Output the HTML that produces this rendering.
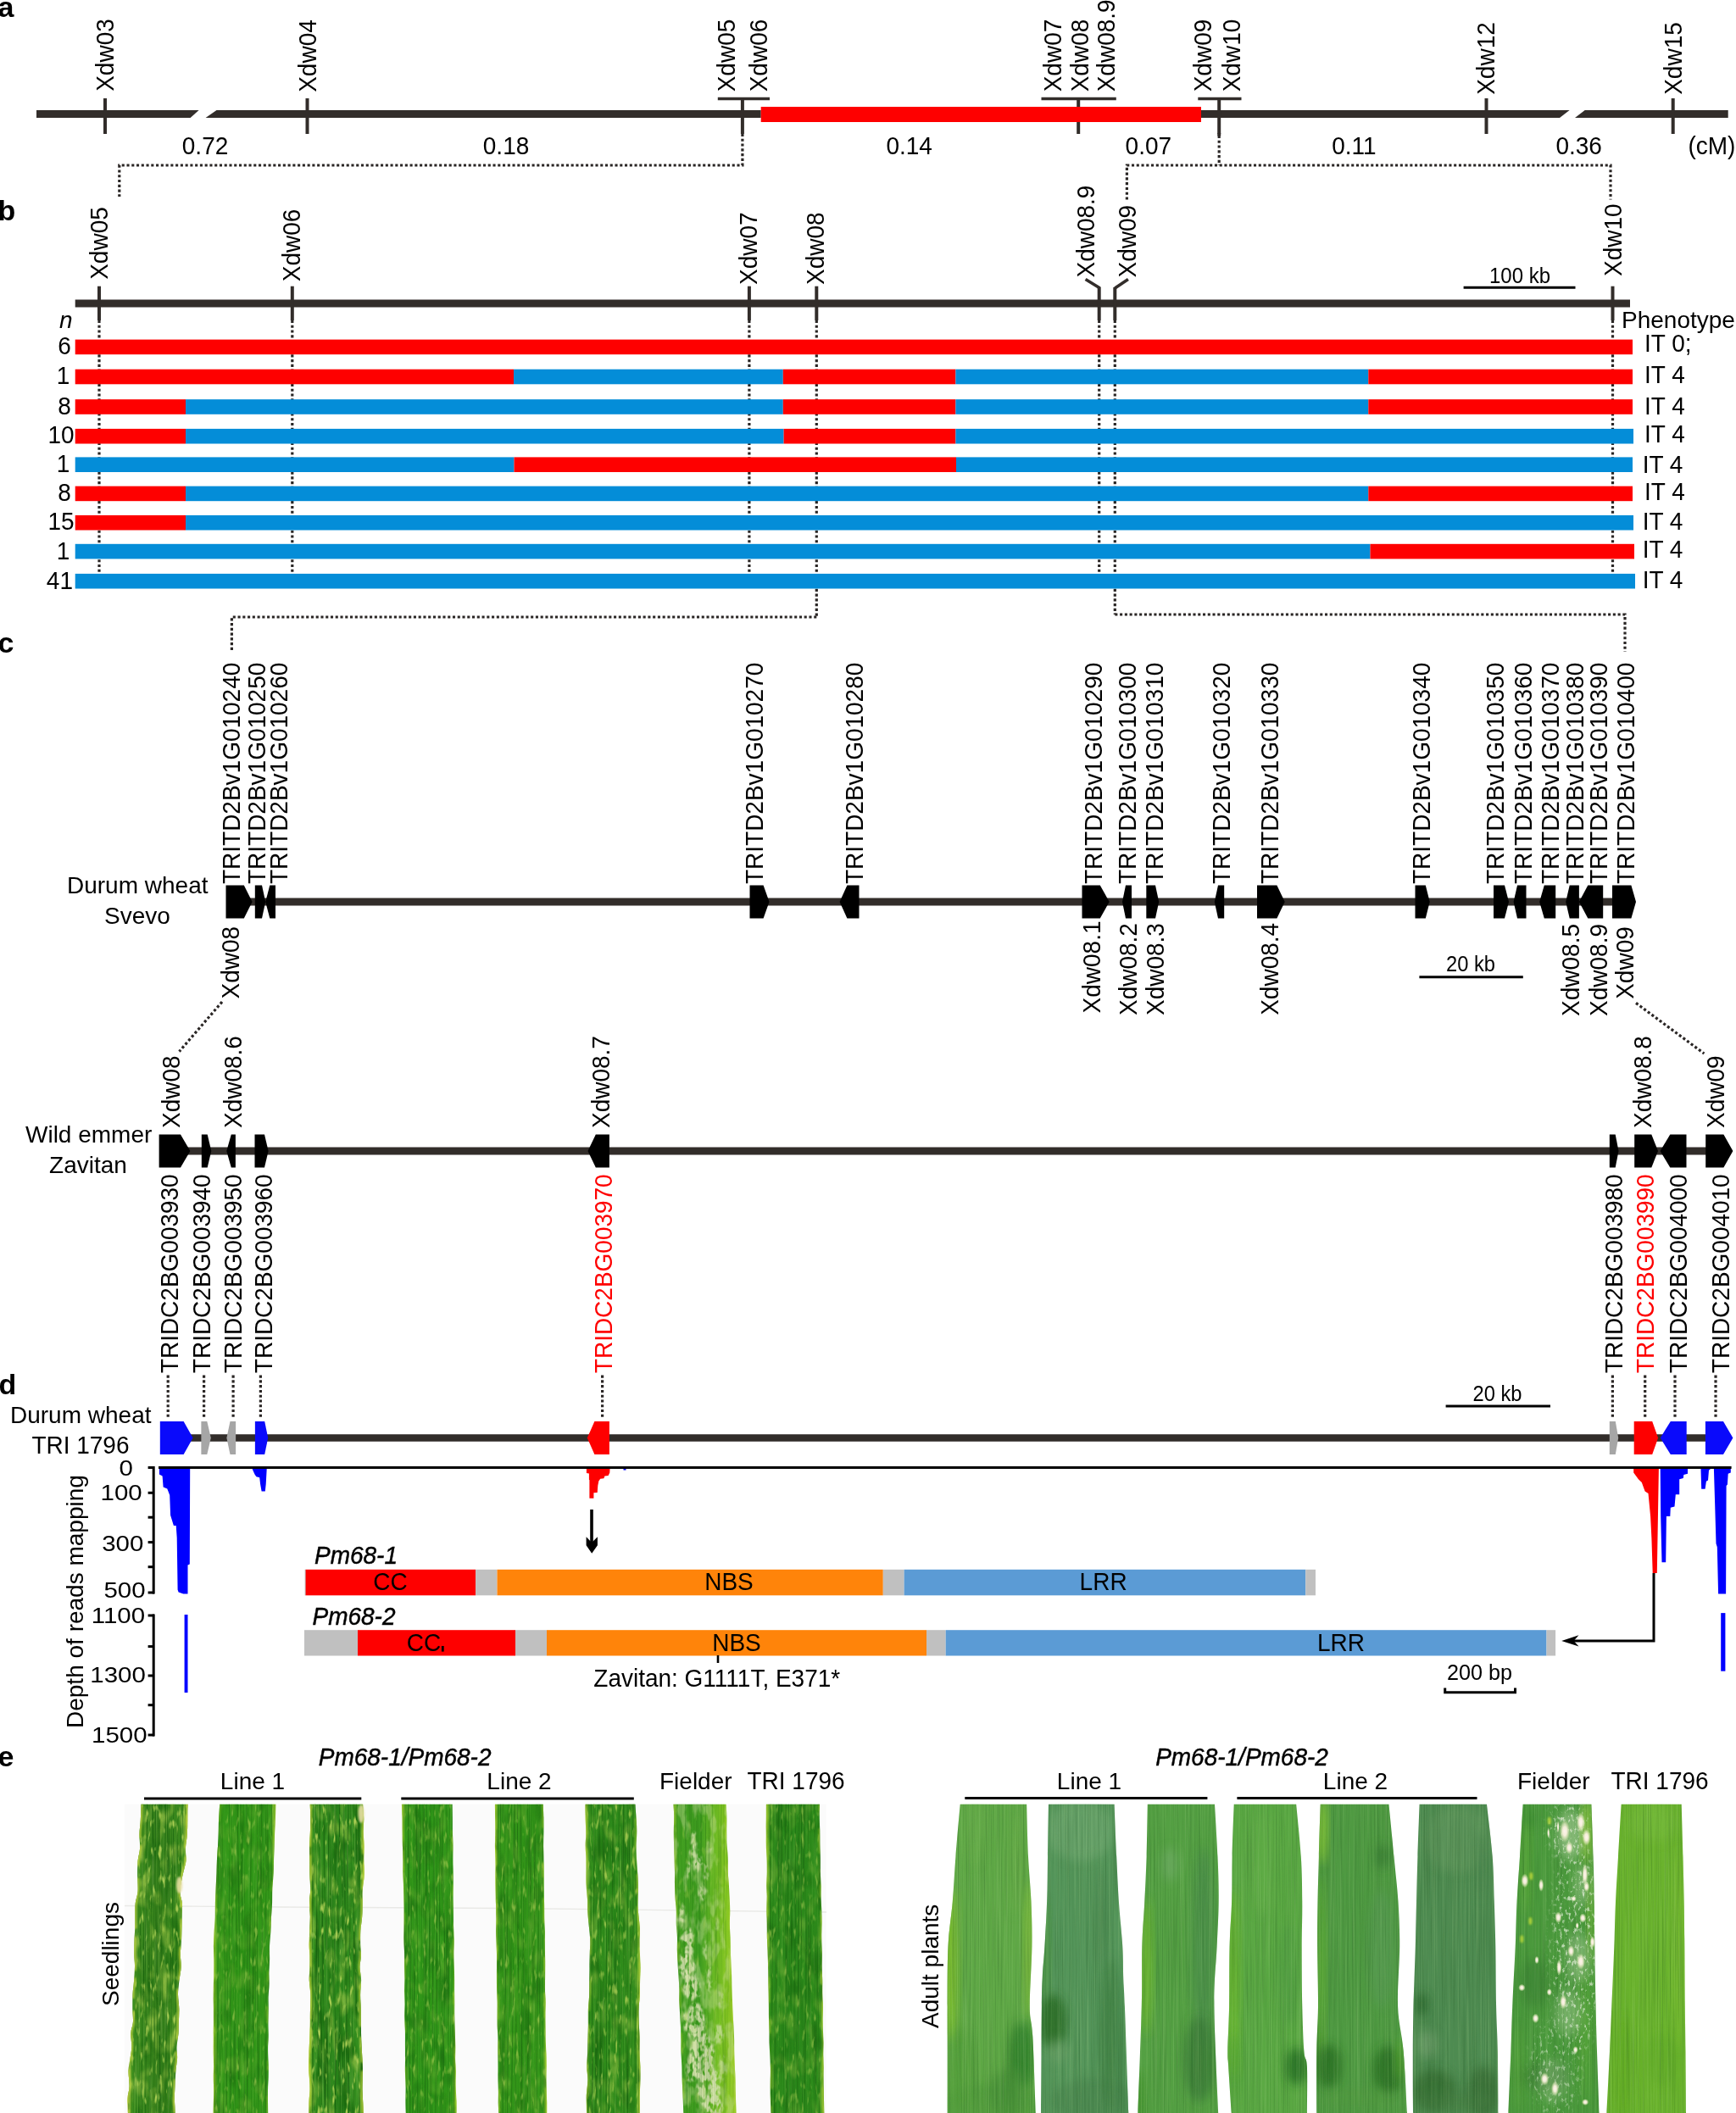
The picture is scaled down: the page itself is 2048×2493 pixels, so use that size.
<!DOCTYPE html>
<html><head><meta charset="utf-8"><title>Figure</title>
<style>html,body{margin:0;padding:0;background:#fff}svg{display:block;will-change:transform}text{font-family:"Liberation Sans",sans-serif}</style>
</head><body>
<svg width="2048" height="2493" viewBox="0 0 2048 2493" font-family="Liberation Sans, sans-serif">
<rect width="2048" height="2493" fill="#fff"/>
<text x="-2.4" y="19.5" font-size="34" fill="#000" text-anchor="start" font-weight="bold">a</text>
<polygon points="43.0,130.0 234.6,130.0 224.6,139.0 43.0,139.0" fill="#322d2a" />
<polygon points="255.5,130.0 897.7,130.0 897.7,139.0 242.6,139.0" fill="#322d2a" />
<polygon points="1417.0,130.0 1851.6,130.0 1840.0,139.0 1417.0,139.0" fill="#322d2a" />
<polygon points="1869.7,130.0 2038.7,130.0 2038.7,139.0 1858.0,139.0" fill="#322d2a" />
<line x1="124.0" y1="116.0" x2="124.0" y2="158.0" stroke="#322d2a" stroke-width="4" />
<line x1="362.5" y1="116.0" x2="362.5" y2="158.0" stroke="#322d2a" stroke-width="4" />
<line x1="1753.5" y1="116.0" x2="1753.5" y2="158.0" stroke="#322d2a" stroke-width="4" />
<line x1="1973.7" y1="116.0" x2="1973.7" y2="158.0" stroke="#322d2a" stroke-width="4" />
<line x1="846.8" y1="116.5" x2="908.0" y2="116.5" stroke="#322d2a" stroke-width="3.4" />
<line x1="875.9" y1="116.0" x2="875.9" y2="158.0" stroke="#322d2a" stroke-width="4" />
<line x1="1228.5" y1="116.5" x2="1316.8" y2="116.5" stroke="#322d2a" stroke-width="3.4" />
<line x1="1272.2" y1="116.0" x2="1272.2" y2="158.0" stroke="#322d2a" stroke-width="4" />
<line x1="1413.3" y1="116.5" x2="1464.5" y2="116.5" stroke="#322d2a" stroke-width="3.4" />
<line x1="1438.2" y1="116.0" x2="1438.2" y2="158.0" stroke="#322d2a" stroke-width="4" />
<rect x="897.7" y="126.0" width="519.3" height="18.0" fill="#fe0000"/>
<text transform="translate(134.0,107.8) rotate(-90) scale(1,1.04)" font-size="28" fill="#000" text-anchor="start" >Xdw03</text>
<text transform="translate(373.0,108.8) rotate(-90) scale(1,1.04)" font-size="28" fill="#000" text-anchor="start" >Xdw04</text>
<text transform="translate(866.9,108.3) rotate(-90) scale(1,1.04)" font-size="28" fill="#000" text-anchor="start" >Xdw05</text>
<text transform="translate(905.0,108.3) rotate(-90) scale(1,1.04)" font-size="28" fill="#000" text-anchor="start" >Xdw06</text>
<text transform="translate(1252.4,108.3) rotate(-90) scale(1,1.04)" font-size="28" fill="#000" text-anchor="start" >Xdw07</text>
<text transform="translate(1283.9,108.3) rotate(-90) scale(1,1.04)" font-size="28" fill="#000" text-anchor="start" >Xdw08</text>
<text transform="translate(1315.3,108.3) rotate(-90) scale(1,1.04)" font-size="28" fill="#000" text-anchor="start" >Xdw08.9</text>
<text transform="translate(1428.8,108.3) rotate(-90) scale(1,1.04)" font-size="28" fill="#000" text-anchor="start" >Xdw09</text>
<text transform="translate(1462.5,108.3) rotate(-90) scale(1,1.04)" font-size="28" fill="#000" text-anchor="start" >Xdw10</text>
<text transform="translate(1763.1,111.8) rotate(-90) scale(1,1.04)" font-size="28" fill="#000" text-anchor="start" >Xdw12</text>
<text transform="translate(1983.7,111.8) rotate(-90) scale(1,1.04)" font-size="28" fill="#000" text-anchor="start" >Xdw15</text>
<text transform="translate(214.8,182.0) scale(1,1.04)" font-size="28" fill="#000" text-anchor="start" >0.72</text>
<text transform="translate(569.8,182.0) scale(1,1.04)" font-size="28" fill="#000" text-anchor="start" >0.18</text>
<text transform="translate(1045.4,182.0) scale(1,1.04)" font-size="28" fill="#000" text-anchor="start" >0.14</text>
<text transform="translate(1327.6,182.0) scale(1,1.04)" font-size="28" fill="#000" text-anchor="start" >0.07</text>
<text transform="translate(1571.2,182.0) scale(1,1.04)" font-size="28" fill="#000" text-anchor="start" >0.11</text>
<text transform="translate(1835.4,182.0) scale(1,1.04)" font-size="28" fill="#000" text-anchor="start" >0.36</text>
<text transform="translate(1991.5,182.0) scale(1,1.04)" font-size="28" fill="#000" text-anchor="start" >(cM)</text>
<path d="M875.9,158.0 L875.9,195.0 L140.8,195.0 L140.8,232.0" fill="none" stroke="#2a2625" stroke-width="3.2" stroke-dasharray="3.1 2.66"/>
<line x1="1438.2" y1="157.0" x2="1438.2" y2="160.5" stroke="#322d2a" stroke-width="4" />
<path d="M1438.2,160.0 L1438.2,195.0" fill="none" stroke="#2a2625" stroke-width="3.2" stroke-dasharray="3.1 2.66"/>
<path d="M1329.4,235.5 L1329.4,195.0 L1900.0,195.0 L1900.0,235.5" fill="none" stroke="#2a2625" stroke-width="3.2" stroke-dasharray="3.1 2.66"/>
<text x="-2.4" y="260.2" font-size="34" fill="#000" text-anchor="start" font-weight="bold">b</text>
<path d="M117.0,378.0 L117.0,680.0" fill="none" stroke="#2a2625" stroke-width="3.2" stroke-dasharray="3.1 2.66"/>
<path d="M344.8,378.0 L344.8,680.0" fill="none" stroke="#2a2625" stroke-width="3.2" stroke-dasharray="3.1 2.66"/>
<path d="M883.9,378.0 L883.9,680.0" fill="none" stroke="#2a2625" stroke-width="3.2" stroke-dasharray="3.1 2.66"/>
<path d="M963.3,378.0 L963.3,729.0" fill="none" stroke="#2a2625" stroke-width="3.2" stroke-dasharray="3.1 2.66"/>
<path d="M1296.7,378.0 L1296.7,680.0" fill="none" stroke="#2a2625" stroke-width="3.2" stroke-dasharray="3.1 2.66"/>
<path d="M1315.3,378.0 L1315.3,725.0" fill="none" stroke="#2a2625" stroke-width="3.2" stroke-dasharray="3.1 2.66"/>
<path d="M1902.5,378.0 L1902.5,680.0" fill="none" stroke="#2a2625" stroke-width="3.2" stroke-dasharray="3.1 2.66"/>
<path d="M963.3,728.0 L273.4,728.0 L273.4,767.0" fill="none" stroke="#2a2625" stroke-width="3.2" stroke-dasharray="3.1 2.66"/>
<path d="M1315.3,725.0 L1917.0,725.0 L1917.0,769.0" fill="none" stroke="#2a2625" stroke-width="3.2" stroke-dasharray="3.1 2.66"/>
<line x1="88.7" y1="358.0" x2="1923.0" y2="358.0" stroke="#322d2a" stroke-width="9" />
<line x1="117.0" y1="337.7" x2="117.0" y2="378.0" stroke="#322d2a" stroke-width="4" />
<line x1="344.8" y1="337.7" x2="344.8" y2="378.0" stroke="#322d2a" stroke-width="4" />
<line x1="883.9" y1="337.7" x2="883.9" y2="378.0" stroke="#322d2a" stroke-width="4" />
<line x1="963.3" y1="337.7" x2="963.3" y2="378.0" stroke="#322d2a" stroke-width="4" />
<line x1="1296.7" y1="339.0" x2="1296.7" y2="378.0" stroke="#322d2a" stroke-width="4" />
<line x1="1315.3" y1="339.0" x2="1315.3" y2="378.0" stroke="#322d2a" stroke-width="4" />
<line x1="1902.5" y1="337.7" x2="1902.5" y2="378.0" stroke="#322d2a" stroke-width="4" />
<line x1="1297.7" y1="340.0" x2="1280.6" y2="329.5" stroke="#322d2a" stroke-width="3.6" />
<line x1="1315.3" y1="340.0" x2="1330.9" y2="329.5" stroke="#322d2a" stroke-width="3.6" />
<text transform="translate(127.0,329.8) rotate(-90) scale(1,1.04)" font-size="28" fill="#000" text-anchor="start" >Xdw05</text>
<text transform="translate(354.0,332.2) rotate(-90) scale(1,1.04)" font-size="28" fill="#000" text-anchor="start" >Xdw06</text>
<text transform="translate(893.1,336.0) rotate(-90) scale(1,1.04)" font-size="28" fill="#000" text-anchor="start" >Xdw07</text>
<text transform="translate(971.8,336.0) rotate(-90) scale(1,1.04)" font-size="28" fill="#000" text-anchor="start" >Xdw08</text>
<text transform="translate(1290.9,327.5) rotate(-90) scale(1,1.04)" font-size="28" fill="#000" text-anchor="start" >Xdw08.9</text>
<text transform="translate(1340.2,327.5) rotate(-90) scale(1,1.04)" font-size="28" fill="#000" text-anchor="start" >Xdw09</text>
<text transform="translate(1913.2,326.0) rotate(-90) scale(1,1.04)" font-size="28" fill="#000" text-anchor="start" >Xdw10</text>
<text x="70.0" y="387.3" font-size="28" fill="#000" text-anchor="start" font-style="italic">n</text>
<rect x="88.7" y="400.6" width="1837.3" height="17.6" fill="#fe0000"/>
<text transform="translate(83.8,417.6) scale(1,1.04)" font-size="28" fill="#000" text-anchor="end" >6</text>
<text transform="translate(1940.0,415.0) scale(1,1.04)" font-size="28" fill="#000" text-anchor="start" >IT 0;</text>
<rect x="88.7" y="435.7" width="517.3" height="17.6" fill="#fe0000"/>
<rect x="606.0" y="435.7" width="317.8" height="17.6" fill="#048dd8"/>
<rect x="923.8" y="435.7" width="203.6" height="17.6" fill="#fe0000"/>
<rect x="1127.4" y="435.7" width="486.9" height="17.6" fill="#048dd8"/>
<rect x="1614.3" y="435.7" width="311.7" height="17.6" fill="#fe0000"/>
<text transform="translate(82.4,453.0) scale(1,1.04)" font-size="28" fill="#000" text-anchor="end" >1</text>
<text transform="translate(1940.0,451.6) scale(1,1.04)" font-size="28" fill="#000" text-anchor="start" >IT 4</text>
<rect x="88.7" y="471.2" width="130.3" height="17.6" fill="#fe0000"/>
<rect x="219.0" y="471.2" width="704.8" height="17.6" fill="#048dd8"/>
<rect x="923.8" y="471.2" width="203.6" height="17.6" fill="#fe0000"/>
<rect x="1127.4" y="471.2" width="486.9" height="17.6" fill="#048dd8"/>
<rect x="1614.3" y="471.2" width="311.7" height="17.6" fill="#fe0000"/>
<text transform="translate(83.8,489.0) scale(1,1.04)" font-size="28" fill="#000" text-anchor="end" >8</text>
<text transform="translate(1940.0,489.2) scale(1,1.04)" font-size="28" fill="#000" text-anchor="start" >IT 4</text>
<rect x="88.7" y="505.9" width="130.3" height="17.6" fill="#fe0000"/>
<rect x="219.0" y="505.9" width="705.6" height="17.6" fill="#048dd8"/>
<rect x="924.6" y="505.9" width="202.8" height="17.6" fill="#fe0000"/>
<rect x="1127.4" y="505.9" width="799.6" height="17.6" fill="#048dd8"/>
<text transform="translate(87.6,523.2) scale(1,1.04)" font-size="28" fill="#000" text-anchor="end" >10</text>
<text transform="translate(1940.0,522.4) scale(1,1.04)" font-size="28" fill="#000" text-anchor="start" >IT 4</text>
<rect x="88.7" y="539.4" width="517.8" height="17.6" fill="#048dd8"/>
<rect x="606.5" y="539.4" width="521.5" height="17.6" fill="#fe0000"/>
<rect x="1128.0" y="539.4" width="798.0" height="17.6" fill="#048dd8"/>
<text transform="translate(82.4,556.7) scale(1,1.04)" font-size="28" fill="#000" text-anchor="end" >1</text>
<text transform="translate(1937.7,557.6) scale(1,1.04)" font-size="28" fill="#000" text-anchor="start" >IT 4</text>
<rect x="88.7" y="573.6" width="130.3" height="17.6" fill="#fe0000"/>
<rect x="219.0" y="573.6" width="1395.3" height="17.6" fill="#048dd8"/>
<rect x="1614.3" y="573.6" width="311.7" height="17.6" fill="#fe0000"/>
<text transform="translate(83.8,591.0) scale(1,1.04)" font-size="28" fill="#000" text-anchor="end" >8</text>
<text transform="translate(1940.0,589.8) scale(1,1.04)" font-size="28" fill="#000" text-anchor="start" >IT 4</text>
<rect x="88.7" y="607.9" width="130.3" height="17.6" fill="#fe0000"/>
<rect x="219.0" y="607.9" width="1708.0" height="17.6" fill="#048dd8"/>
<text transform="translate(87.6,624.8) scale(1,1.04)" font-size="28" fill="#000" text-anchor="end" >15</text>
<text transform="translate(1937.7,625.0) scale(1,1.04)" font-size="28" fill="#000" text-anchor="start" >IT 4</text>
<rect x="88.7" y="641.8" width="1527.8" height="17.6" fill="#048dd8"/>
<rect x="1616.5" y="641.8" width="311.5" height="17.6" fill="#fe0000"/>
<text transform="translate(82.4,659.5) scale(1,1.04)" font-size="28" fill="#000" text-anchor="end" >1</text>
<text transform="translate(1937.7,658.2) scale(1,1.04)" font-size="28" fill="#000" text-anchor="start" >IT 4</text>
<rect x="88.7" y="676.9" width="1840.3" height="17.6" fill="#048dd8"/>
<text transform="translate(86.0,694.6) scale(1,1.04)" font-size="28" fill="#000" text-anchor="end" >41</text>
<text transform="translate(1937.7,694.4) scale(1,1.04)" font-size="28" fill="#000" text-anchor="start" >IT 4</text>
<text x="1913.0" y="386.6" font-size="28" fill="#000" text-anchor="start" >Phenotype</text>
<line x1="1726.6" y1="339.2" x2="1858.5" y2="339.2" stroke="#000" stroke-width="3" />
<text x="1793.0" y="334.0" font-size="26" fill="#000" text-anchor="middle" textLength="72" lengthAdjust="spacingAndGlyphs">100 kb</text>
<text x="-2.4" y="769.5" font-size="34" fill="#000" text-anchor="start" font-weight="bold">c</text>
<line x1="290.0" y1="1064.0" x2="1926.0" y2="1064.0" stroke="#322d2a" stroke-width="9" />
<polygon points="266.5,1044.5 287.8,1044.5 297.6,1064.0 287.8,1083.5 266.5,1083.5" fill="#000" />
<text transform="translate(282.9,1043.0) rotate(-90) scale(1,1.04)" font-size="28" fill="#000" text-anchor="start" >TRITD2Bv1G010240</text>
<polygon points="300.8,1044.5 309.0,1044.5 313.2,1064.0 309.0,1083.5 300.8,1083.5" fill="#000" />
<text transform="translate(313.4,1043.0) rotate(-90) scale(1,1.04)" font-size="28" fill="#000" text-anchor="start" >TRITD2Bv1G010250</text>
<polygon points="325.0,1044.5 318.3,1044.5 313.2,1064.0 318.3,1083.5 325.0,1083.5" fill="#000" />
<text transform="translate(338.8,1043.0) rotate(-90) scale(1,1.04)" font-size="28" fill="#000" text-anchor="start" >TRITD2Bv1G010260</text>
<polygon points="884.5,1044.5 900.6,1044.5 907.5,1064.0 900.6,1083.5 884.5,1083.5" fill="#000" />
<text transform="translate(899.8,1043.0) rotate(-90) scale(1,1.04)" font-size="28" fill="#000" text-anchor="start" >TRITD2Bv1G010270</text>
<polygon points="1013.5,1044.5 999.4,1044.5 990.6,1064.0 999.4,1083.5 1013.5,1083.5" fill="#000" />
<text transform="translate(1017.6,1043.0) rotate(-90) scale(1,1.04)" font-size="28" fill="#000" text-anchor="start" >TRITD2Bv1G010280</text>
<polygon points="1276.5,1044.5 1297.8,1044.5 1308.7,1064.0 1297.8,1083.5 1276.5,1083.5" fill="#000" />
<text transform="translate(1299.8,1043.0) rotate(-90) scale(1,1.04)" font-size="28" fill="#000" text-anchor="start" >TRITD2Bv1G010290</text>
<polygon points="1335.0,1044.5 1328.0,1044.5 1324.0,1064.0 1328.0,1083.5 1335.0,1083.5" fill="#000" />
<text transform="translate(1340.2,1043.0) rotate(-90) scale(1,1.04)" font-size="28" fill="#000" text-anchor="start" >TRITD2Bv1G010300</text>
<polygon points="1352.3,1044.5 1363.0,1044.5 1367.2,1064.0 1363.0,1083.5 1352.3,1083.5" fill="#000" />
<text transform="translate(1372.4,1043.0) rotate(-90) scale(1,1.04)" font-size="28" fill="#000" text-anchor="start" >TRITD2Bv1G010310</text>
<polygon points="1444.2,1044.5 1437.0,1044.5 1432.8,1064.0 1437.0,1083.5 1444.2,1083.5" fill="#000" />
<text transform="translate(1451.3,1043.0) rotate(-90) scale(1,1.04)" font-size="28" fill="#000" text-anchor="start" >TRITD2Bv1G010320</text>
<polygon points="1483.0,1044.5 1506.4,1044.5 1515.7,1064.0 1506.4,1083.5 1483.0,1083.5" fill="#000" />
<text transform="translate(1507.5,1043.0) rotate(-90) scale(1,1.04)" font-size="28" fill="#000" text-anchor="start" >TRITD2Bv1G010330</text>
<polygon points="1669.5,1044.5 1681.8,1044.5 1686.7,1064.0 1681.8,1083.5 1669.5,1083.5" fill="#000" />
<text transform="translate(1687.4,1043.0) rotate(-90) scale(1,1.04)" font-size="28" fill="#000" text-anchor="start" >TRITD2Bv1G010340</text>
<polygon points="1762.0,1044.5 1775.0,1044.5 1780.0,1064.0 1775.0,1083.5 1762.0,1083.5" fill="#000" />
<text transform="translate(1774.4,1043.0) rotate(-90) scale(1,1.04)" font-size="28" fill="#000" text-anchor="start" >TRITD2Bv1G010350</text>
<polygon points="1800.5,1044.5 1790.0,1044.5 1785.6,1064.0 1790.0,1083.5 1800.5,1083.5" fill="#000" />
<text transform="translate(1806.9,1043.0) rotate(-90) scale(1,1.04)" font-size="28" fill="#000" text-anchor="start" >TRITD2Bv1G010360</text>
<polygon points="1835.2,1044.5 1821.8,1044.5 1816.2,1064.0 1821.8,1083.5 1835.2,1083.5" fill="#000" />
<text transform="translate(1838.6,1043.0) rotate(-90) scale(1,1.04)" font-size="28" fill="#000" text-anchor="start" >TRITD2Bv1G010370</text>
<polygon points="1862.9,1044.5 1851.7,1044.5 1847.2,1064.0 1851.7,1083.5 1862.9,1083.5" fill="#000" />
<text transform="translate(1867.7,1043.0) rotate(-90) scale(1,1.04)" font-size="28" fill="#000" text-anchor="start" >TRITD2Bv1G010380</text>
<polygon points="1891.2,1044.5 1873.3,1044.5 1862.9,1064.0 1873.3,1083.5 1891.2,1083.5" fill="#000" />
<text transform="translate(1895.7,1043.0) rotate(-90) scale(1,1.04)" font-size="28" fill="#000" text-anchor="start" >TRITD2Bv1G010390</text>
<polygon points="1902.0,1044.5 1924.4,1044.5 1930.0,1064.0 1924.4,1083.5 1902.0,1083.5" fill="#000" />
<text transform="translate(1928.2,1043.0) rotate(-90) scale(1,1.04)" font-size="28" fill="#000" text-anchor="start" >TRITD2Bv1G010400</text>
<text transform="translate(282.0,1178.4) rotate(-90) scale(1,1.04)" font-size="28" fill="#000" text-anchor="start" >Xdw08</text>
<text transform="translate(1298.1,1195.4) rotate(-90) scale(1,1.04)" font-size="28" fill="#000" text-anchor="start" >Xdw08.1</text>
<text transform="translate(1340.6,1198.0) rotate(-90) scale(1,1.04)" font-size="28" fill="#000" text-anchor="start" >Xdw08.2</text>
<text transform="translate(1372.9,1198.0) rotate(-90) scale(1,1.04)" font-size="28" fill="#000" text-anchor="start" >Xdw08.3</text>
<text transform="translate(1507.5,1197.8) rotate(-90) scale(1,1.04)" font-size="28" fill="#000" text-anchor="start" >Xdw08.4</text>
<text transform="translate(1862.8,1198.9) rotate(-90) scale(1,1.04)" font-size="28" fill="#000" text-anchor="start" >Xdw08.5</text>
<text transform="translate(1895.6,1198.9) rotate(-90) scale(1,1.04)" font-size="28" fill="#000" text-anchor="start" >Xdw08.9</text>
<text transform="translate(1927.3,1178.8) rotate(-90) scale(1,1.04)" font-size="28" fill="#000" text-anchor="start" >Xdw09</text>
<text x="79.0" y="1053.6" font-size="28" fill="#000" text-anchor="start" >Durum wheat</text>
<text x="162.0" y="1090.0" font-size="28" fill="#000" text-anchor="middle" >Svevo</text>
<line x1="1674.4" y1="1152.8" x2="1796.8" y2="1152.8" stroke="#000" stroke-width="3" />
<text x="1735.0" y="1146.0" font-size="26" fill="#000" text-anchor="middle" textLength="58" lengthAdjust="spacingAndGlyphs">20 kb</text>
<path d="M262.0,1182.0 L211.5,1240.6" fill="none" stroke="#2a2625" stroke-width="3.2" stroke-dasharray="3.1 2.66"/>
<path d="M1930.0,1183.4 L2010.4,1243.0" fill="none" stroke="#2a2625" stroke-width="3.2" stroke-dasharray="3.1 2.66"/>
<line x1="200.0" y1="1358.0" x2="2040.0" y2="1358.0" stroke="#322d2a" stroke-width="9" />
<polygon points="187.6,1338.5 213.0,1338.5 224.4,1358.0 213.0,1377.5 187.6,1377.5" fill="#000" />
<text transform="translate(210.2,1385.3) rotate(-90) scale(1,1.04)" font-size="28" fill="#000" text-anchor="end" >TRIDC2BG003930</text>
<polygon points="237.8,1338.5 244.7,1338.5 249.3,1358.0 244.7,1377.5 237.8,1377.5" fill="#000" />
<text transform="translate(247.5,1385.3) rotate(-90) scale(1,1.04)" font-size="28" fill="#000" text-anchor="end" >TRIDC2BG003940</text>
<polygon points="277.9,1338.5 272.8,1338.5 267.3,1358.0 272.8,1377.5 277.9,1377.5" fill="#000" />
<text transform="translate(285.3,1385.3) rotate(-90) scale(1,1.04)" font-size="28" fill="#000" text-anchor="end" >TRIDC2BG003950</text>
<polygon points="300.5,1338.5 312.0,1338.5 316.6,1358.0 312.0,1377.5 300.5,1377.5" fill="#000" />
<text transform="translate(320.5,1385.3) rotate(-90) scale(1,1.04)" font-size="28" fill="#000" text-anchor="end" >TRIDC2BG003960</text>
<polygon points="718.9,1338.5 702.8,1338.5 693.5,1358.0 702.8,1377.5 718.9,1377.5" fill="#000" />
<text transform="translate(722.1,1385.3) rotate(-90) scale(1,1.04)" font-size="28" fill="#fe0000" text-anchor="end" >TRIDC2BG003970</text>
<polygon points="1898.8,1338.5 1905.7,1338.5 1909.5,1358.0 1905.7,1377.5 1898.8,1377.5" fill="#000" />
<text transform="translate(1914.0,1385.3) rotate(-90) scale(1,1.04)" font-size="28" fill="#000" text-anchor="end" >TRIDC2BG003980</text>
<polygon points="1928.2,1338.5 1948.3,1338.5 1956.0,1358.0 1948.3,1377.5 1928.2,1377.5" fill="#000" />
<text transform="translate(1951.4,1385.3) rotate(-90) scale(1,1.04)" font-size="28" fill="#fe0000" text-anchor="end" >TRIDC2BG003990</text>
<polygon points="1989.5,1338.5 1970.3,1338.5 1958.6,1358.0 1970.3,1377.5 1989.5,1377.5" fill="#000" />
<text transform="translate(1989.5,1385.3) rotate(-90) scale(1,1.04)" font-size="28" fill="#000" text-anchor="end" >TRIDC2BG004000</text>
<polygon points="2012.2,1338.5 2033.4,1338.5 2044.4,1358.0 2033.4,1377.5 2012.2,1377.5" fill="#000" />
<text transform="translate(2040.1,1385.3) rotate(-90) scale(1,1.04)" font-size="28" fill="#000" text-anchor="end" >TRIDC2BG004010</text>
<text transform="translate(211.5,1331.0) rotate(-90) scale(1,1.04)" font-size="28" fill="#000" text-anchor="start" >Xdw08</text>
<text transform="translate(284.8,1331.0) rotate(-90) scale(1,1.04)" font-size="28" fill="#000" text-anchor="start" >Xdw08.6</text>
<text transform="translate(718.9,1331.0) rotate(-90) scale(1,1.04)" font-size="28" fill="#000" text-anchor="start" >Xdw08.7</text>
<text transform="translate(1948.3,1331.0) rotate(-90) scale(1,1.04)" font-size="28" fill="#000" text-anchor="start" >Xdw08.8</text>
<text transform="translate(2034.2,1331.0) rotate(-90) scale(1,1.04)" font-size="28" fill="#000" text-anchor="start" >Xdw09</text>
<text x="30.0" y="1347.6" font-size="28" fill="#000" text-anchor="start" >Wild emmer</text>
<text x="104.0" y="1384.4" font-size="28" fill="#000" text-anchor="middle" >Zavitan</text>
<path d="M198.2,1622.6 L198.2,1674.4" fill="none" stroke="#2a2625" stroke-width="3.2" stroke-dasharray="3.1 2.66"/>
<path d="M240.6,1622.6 L240.6,1674.4" fill="none" stroke="#2a2625" stroke-width="3.2" stroke-dasharray="3.1 2.66"/>
<path d="M275.1,1622.6 L275.1,1674.4" fill="none" stroke="#2a2625" stroke-width="3.2" stroke-dasharray="3.1 2.66"/>
<path d="M307.4,1622.6 L307.4,1674.4" fill="none" stroke="#2a2625" stroke-width="3.2" stroke-dasharray="3.1 2.66"/>
<path d="M710.6,1622.6 L710.6,1674.4" fill="none" stroke="#2a2625" stroke-width="3.2" stroke-dasharray="3.1 2.66"/>
<path d="M1902.4,1622.6 L1902.4,1674.4" fill="none" stroke="#2a2625" stroke-width="3.2" stroke-dasharray="3.1 2.66"/>
<path d="M1940.7,1622.6 L1940.7,1674.4" fill="none" stroke="#2a2625" stroke-width="3.2" stroke-dasharray="3.1 2.66"/>
<path d="M1976.0,1622.6 L1976.0,1674.4" fill="none" stroke="#2a2625" stroke-width="3.2" stroke-dasharray="3.1 2.66"/>
<path d="M2024.0,1622.6 L2024.0,1674.4" fill="none" stroke="#2a2625" stroke-width="3.2" stroke-dasharray="3.1 2.66"/>
<line x1="1705.6" y1="1659.0" x2="1829.0" y2="1659.0" stroke="#000" stroke-width="3" />
<text x="1766.5" y="1652.6" font-size="26" fill="#000" text-anchor="middle" textLength="58" lengthAdjust="spacingAndGlyphs">20 kb</text>
<text x="-1.6" y="1645.0" font-size="34" fill="#000" text-anchor="start" font-weight="bold">d</text>
<text x="12.0" y="1679.3" font-size="28" fill="#000" text-anchor="start" >Durum wheat</text>
<text transform="translate(37.4,1715.3) scale(1,1.04)" font-size="28" fill="#000" text-anchor="start" >TRI 1796</text>
<line x1="200.0" y1="1696.5" x2="2040.0" y2="1696.5" stroke="#322d2a" stroke-width="8.6" />
<polygon points="188.8,1677.0 216.6,1677.0 227.6,1696.5 216.6,1716.0 188.8,1716.0" fill="#0a0afb" />
<polygon points="237.4,1677.0 244.3,1677.0 248.8,1696.5 244.3,1716.0 237.4,1716.0" fill="#a6a6a6" />
<polygon points="278.1,1677.0 271.5,1677.0 267.4,1696.5 271.5,1716.0 278.1,1716.0" fill="#a6a6a6" />
<polygon points="300.9,1677.0 312.2,1677.0 316.2,1696.5 312.2,1716.0 300.9,1716.0" fill="#0a0afb" />
<polygon points="718.9,1677.0 701.4,1677.0 692.8,1696.5 701.4,1716.0 718.9,1716.0" fill="#fe0000" />
<polygon points="1898.8,1677.0 1905.8,1677.0 1909.2,1696.5 1905.8,1716.0 1898.8,1716.0" fill="#a6a6a6" />
<polygon points="1927.7,1677.0 1949.2,1677.0 1956.1,1696.5 1949.2,1716.0 1927.7,1716.0" fill="#fe0000" />
<polygon points="1989.7,1677.0 1970.8,1677.0 1958.7,1696.5 1970.8,1716.0 1989.7,1716.0" fill="#0a0afb" />
<polygon points="2011.9,1677.0 2033.0,1677.0 2044.4,1696.5 2033.0,1716.0 2011.9,1716.0" fill="#0a0afb" />
<polygon points="187.9,1732.9 187.9,1739.5 191.6,1741.4 192.6,1754.6 197.3,1756.5 200.2,1764.1 201.1,1787.8 204.9,1800.0 207.7,1800.0 208.7,1814.3 209.6,1875.8 210.6,1878.6 216.3,1880.5 221.5,1880.5 221.5,1846.4 223.8,1845.5 224.2,1732.9" fill="#0000ff" />
<rect x="217.6" y="1905.0" width="3.9" height="92.0" fill="#0000ff"/>
<polygon points="297.6,1732.9 300.5,1739.5 302.4,1742.3 306.2,1743.3 307.1,1750.9 308.6,1759.4 312.8,1759.4 313.7,1750.9 314.7,1732.9" fill="#0000ff" />
<polygon points="691.9,1732.9 691.9,1738.1 694.9,1738.4 694.9,1745.7 695.4,1746.2 695.4,1767.7 700.4,1767.7 700.4,1761.3 704.7,1761.1 705.3,1752.8 706.3,1747.6 708.2,1744.7 712.4,1744.3 713.4,1741.6 717.6,1740.9 719.3,1737.6 719.5,1732.9" fill="#fe0000" />
<rect x="735.5" y="1732.5" width="3.0" height="2.0" fill="#0000ff"/>
<polygon points="1927.2,1733.0 1927.2,1737.4 1932.9,1745.2 1936.8,1749.0 1940.6,1759.4 1944.5,1761.9 1947.1,1789.0 1948.4,1814.8 1949.7,1856.1 1954.8,1856.1 1956.9,1733.0" fill="#fe0000" />
<polygon points="1958.7,1733.0 1959.2,1789.0 1960.5,1843.2 1965.2,1843.2 1965.9,1789.0 1970.3,1789.0 1970.8,1778.7 1975.5,1777.4 1976.8,1763.2 1981.2,1763.2 1981.2,1745.2 1985.8,1743.9 1986.3,1740.0 1991.0,1738.7 1991.0,1733.0" fill="#0000ff" />
<polygon points="2006.5,1733.0 2007.2,1756.8 2011.6,1756.8 2012.9,1747.7 2015.0,1746.5 2016.0,1734.8 2018.0,1733.0" fill="#0000ff" />
<polygon points="2021.9,1733.0 2023.2,1776.1 2024.5,1821.3 2025.8,1825.2 2027.1,1880.6 2036.1,1880.6 2036.6,1752.9 2037.9,1751.6 2038.7,1738.7 2041.8,1737.4 2041.8,1733.0" fill="#0000ff" />
<rect x="2030.2" y="1903.1" width="5.2" height="68.6" fill="#0000ff"/>
<line x1="187.0" y1="1731.5" x2="2042.6" y2="1731.5" stroke="#000" stroke-width="3" />
<line x1="181.2" y1="1730.0" x2="181.2" y2="1880.5" stroke="#000" stroke-width="3" />
<line x1="174.6" y1="1731.5" x2="182.0" y2="1731.5" stroke="#000" stroke-width="3" />
<line x1="174.6" y1="1761.3" x2="182.0" y2="1761.3" stroke="#000" stroke-width="3" />
<line x1="174.6" y1="1790.2" x2="182.0" y2="1790.2" stroke="#000" stroke-width="3" />
<line x1="174.6" y1="1819.6" x2="182.0" y2="1819.6" stroke="#000" stroke-width="3" />
<line x1="174.6" y1="1848.7" x2="182.0" y2="1848.7" stroke="#000" stroke-width="3" />
<line x1="174.6" y1="1879.0" x2="182.0" y2="1879.0" stroke="#000" stroke-width="3" />
<line x1="181.2" y1="1904.5" x2="181.2" y2="2048.5" stroke="#000" stroke-width="3" />
<line x1="174.6" y1="1906.0" x2="182.0" y2="1906.0" stroke="#000" stroke-width="3" />
<line x1="174.6" y1="1942.6" x2="182.0" y2="1942.6" stroke="#000" stroke-width="3" />
<line x1="174.6" y1="1977.0" x2="182.0" y2="1977.0" stroke="#000" stroke-width="3" />
<line x1="174.6" y1="2011.7" x2="182.0" y2="2011.7" stroke="#000" stroke-width="3" />
<line x1="174.6" y1="2047.0" x2="182.0" y2="2047.0" stroke="#000" stroke-width="3" />
<text transform="translate(156.9,1741) scale(1.18,1.04)" font-size="25" text-anchor="end">0</text>
<text transform="translate(167.7,1770) scale(1.18,1.04)" font-size="25" text-anchor="end">100</text>
<text transform="translate(169.4,1829.6) scale(1.18,1.04)" font-size="25" text-anchor="end">300</text>
<text transform="translate(171.6,1884.6) scale(1.18,1.04)" font-size="25" text-anchor="end">500</text>
<text transform="translate(171.1,1915.2) scale(1.18,1.04)" font-size="25" text-anchor="end">1100</text>
<text transform="translate(171.9,1985) scale(1.18,1.04)" font-size="25" text-anchor="end">1300</text>
<text transform="translate(173.6,2055.8) scale(1.18,1.04)" font-size="25" text-anchor="end">1500</text>
<text transform="translate(98.4,2039.0) rotate(-90)" font-size="28" fill="#000" text-anchor="start" >Depth of reads mapping</text>
<line x1="698.0" y1="1781.0" x2="698.0" y2="1822.0" stroke="#000" stroke-width="3.6" />
<polygon points="691.6,1813.2 698.1,1820.0 704.9,1813.2 704.9,1823.3 698.2,1832.8 691.6,1823.3" fill="#000" />
<path d="M1951,1856 L1951,1936 L1856,1936" fill="none" stroke="#000" stroke-width="3"/>
<polygon points="1842.2,1936.0 1862.5,1929.2 1856.5,1936.0 1862.5,1942.6" fill="#000" />
<rect x="359.6" y="1851.8" width="1.4" height="30.5" fill="#c0c0c0"/>
<rect x="360.6" y="1851.8" width="200.5" height="30.5" fill="#fe0000"/>
<rect x="561.1" y="1851.8" width="25.4" height="30.5" fill="#c0c0c0"/>
<rect x="586.5" y="1851.8" width="455.3" height="30.5" fill="#ff840a"/>
<rect x="1041.8" y="1851.8" width="24.8" height="30.5" fill="#c0c0c0"/>
<rect x="1066.6" y="1851.8" width="473.7" height="30.5" fill="#5b9bd5"/>
<rect x="1540.3" y="1851.8" width="11.7" height="30.5" fill="#c0c0c0"/>
<rect x="359.0" y="1923.2" width="63.0" height="30.3" fill="#c0c0c0"/>
<rect x="422.0" y="1923.2" width="186.0" height="30.3" fill="#fe0000"/>
<rect x="608.0" y="1923.2" width="37.0" height="30.3" fill="#c0c0c0"/>
<rect x="645.0" y="1923.2" width="448.0" height="30.3" fill="#ff840a"/>
<rect x="1093.0" y="1923.2" width="22.7" height="30.3" fill="#c0c0c0"/>
<rect x="1115.7" y="1923.2" width="708.8" height="30.3" fill="#5b9bd5"/>
<rect x="1824.5" y="1923.2" width="10.6" height="30.3" fill="#c0c0c0"/>
<text transform="translate(460.4,1876.0) scale(1,1.04)" font-size="28" fill="#000" text-anchor="middle" >CC</text>
<text transform="translate(860.0,1876.0) scale(1,1.04)" font-size="28" fill="#000" text-anchor="middle" >NBS</text>
<text transform="translate(1301.6,1876.0) scale(1,1.04)" font-size="28" fill="#000" text-anchor="middle" >LRR</text>
<text transform="translate(500.0,1947.5) scale(1,1.04)" font-size="28" fill="#000" text-anchor="middle" >CC</text>
<text transform="translate(869.0,1947.5) scale(1,1.04)" font-size="28" fill="#000" text-anchor="middle" >NBS</text>
<text transform="translate(1582.0,1947.5) scale(1,1.04)" font-size="28" fill="#000" text-anchor="middle" >LRR</text>
<line x1="522.3" y1="1942.0" x2="522.3" y2="1948.6" stroke="#000" stroke-width="2.8" />
<line x1="847.0" y1="1953.0" x2="847.0" y2="1962.0" stroke="#000" stroke-width="2.6" />
<text transform="translate(371.0,1844.7) scale(1,1.04)" font-size="28" fill="#000" text-anchor="start" font-style="italic" stroke="#000" stroke-width="0.45">Pm68-1</text>
<text transform="translate(368.5,1916.7) scale(1,1.04)" font-size="28" fill="#000" text-anchor="start" font-style="italic" stroke="#000" stroke-width="0.45">Pm68-2</text>
<text transform="translate(700.3,1989.8) scale(1,1.04)" font-size="28" fill="#000" text-anchor="start" >Zavitan: G1111T, E371*</text>
<text x="1745.5" y="1982.0" font-size="26" fill="#000" text-anchor="middle" textLength="77" lengthAdjust="spacingAndGlyphs">200 bp</text>
<path d="M1704.7,1991.5 L1704.7,1996.8 L1787.5,1996.8 L1787.5,1991.5" fill="none" stroke="#000" stroke-width="3"/>
<text x="-2.4" y="2084.0" font-size="34" fill="#000" text-anchor="start" font-weight="bold">e</text>
<defs>
<filter id="fvein" x="0" y="0" width="1" height="1" color-interpolation-filters="sRGB">
<feTurbulence type="fractalNoise" baseFrequency="0.6 0.008" numOctaves="2" seed="5"/>
<feColorMatrix type="matrix" values="0 0 0 0 0.08  0 0 0 0 0.36  0 0 0 0 0.05  2.6 0 0 0 -1.15"/>
<feComposite in2="SourceAlpha" operator="in"/></filter>
<filter id="fveinL" x="0" y="0" width="1" height="1" color-interpolation-filters="sRGB">
<feTurbulence type="fractalNoise" baseFrequency="0.55 0.012" numOctaves="2" seed="9"/>
<feColorMatrix type="matrix" values="0 0 0 0 0.62  0 0 0 0 0.80  0 0 0 0 0.42  0 3.0 0 0 -1.55"/>
<feComposite in2="SourceAlpha" operator="in"/></filter>
<filter id="fspk" x="0" y="0" width="1" height="1" color-interpolation-filters="sRGB">
<feTurbulence type="fractalNoise" baseFrequency="0.24 0.062" numOctaves="2" seed="2"/>
<feColorMatrix type="matrix" values="0 0 0 0 0.66  0 0 0 0 0.80  0 0 0 0 0.32  4.6 0 0 0 -2.75"/>
<feComposite in2="SourceAlpha" operator="in"/></filter>
<filter id="fspk2" x="0" y="0" width="1" height="1" color-interpolation-filters="sRGB">
<feTurbulence type="fractalNoise" baseFrequency="0.07 0.03" numOctaves="2" seed="14"/>
<feColorMatrix type="matrix" values="0 0 0 0 0.10  0 0 0 0 0.42  0 0 0 0 0.06  0 4 0 0 -2.1"/>
<feComposite in2="SourceAlpha" operator="in"/></filter>
<filter id="fmot" x="0" y="0" width="1" height="1" color-interpolation-filters="sRGB">
<feTurbulence type="fractalNoise" baseFrequency="0.085 0.04" numOctaves="2" seed="77"/>
<feColorMatrix type="matrix" values="0 0 0 0 0.60  0 0 0 0 0.76  0 0 0 0 0.27  0 0 3.6 0 -1.75"/>
<feComposite in2="SourceAlpha" operator="in"/></filter>
<filter id="fwht" x="0" y="0" width="1" height="1" color-interpolation-filters="sRGB">
<feTurbulence type="fractalNoise" baseFrequency="0.09 0.035" numOctaves="3" seed="21"/>
<feColorMatrix type="matrix" values="0 0 0 0 0.80  0 0 0 0 0.87  0 0 0 0 0.62  6 0 0 0 -2.9"/>
<feComposite in2="SourceAlpha" operator="in"/></filter>
<filter id="fgrain" x="0" y="0" width="1" height="1" color-interpolation-filters="sRGB">
<feTurbulence type="fractalNoise" baseFrequency="0.7 0.008" numOctaves="2" seed="31"/>
<feColorMatrix type="matrix" values="0 0 0 0 0.12  0 0 0 0 0.32  0 0 0 0 0.12  2.0 0 0 0 -0.92"/>
<feComposite in2="SourceAlpha" operator="in"/></filter>
<filter id="fgrainL" x="0" y="0" width="1" height="1" color-interpolation-filters="sRGB">
<feTurbulence type="fractalNoise" baseFrequency="0.65 0.006" numOctaves="2" seed="47"/>
<feColorMatrix type="matrix" values="0 0 0 0 0.75  0 0 0 0 0.90  0 0 0 0 0.62  0 2.0 0 0 -0.95"/>
<feComposite in2="SourceAlpha" operator="in"/></filter>
<filter id="fpow" x="0" y="0" width="1" height="1" color-interpolation-filters="sRGB">
<feTurbulence type="fractalNoise" baseFrequency="0.3 0.16" numOctaves="3" seed="8"/>
<feColorMatrix type="matrix" values="0 0 0 0 0.88  0 0 0 0 0.93  0 0 0 0 0.84  5 0 0 0 -2.8"/>
<feComposite in2="SourceAlpha" operator="in"/></filter>
<filter id="blur3" x="-0.3" y="-0.3" width="1.6" height="1.6"><feGaussianBlur stdDeviation="3"/></filter>
<filter id="blur6" x="-0.5" y="-0.5" width="2" height="2"><feGaussianBlur stdDeviation="6"/></filter>
<filter id="frough" x="-0.1" y="-0.05" width="1.2" height="1.1" color-interpolation-filters="sRGB">
<feTurbulence type="fractalNoise" baseFrequency="0.22 0.11" numOctaves="2" seed="4" result="n"/>
<feDisplacementMap in="SourceGraphic" in2="n" scale="10" xChannelSelector="R" yChannelSelector="G" result="d"/>
<feGaussianBlur in="d" stdDeviation="0.9" result="b"/>
<feColorMatrix in="n" type="matrix" values="0 0 0 0 1  0 0 0 0 1  0 0 0 0 1  0 0 5 0 -1.7" result="m"/>
<feComposite in="b" in2="m" operator="in"/></filter>
<filter id="blur2" x="-0.3" y="-0.3" width="1.6" height="1.6"><feGaussianBlur stdDeviation="1.8"/></filter>
<filter id="blur1" x="-0.3" y="-0.3" width="1.6" height="1.6"><feGaussianBlur stdDeviation="1.1"/></filter>
<radialGradient id="wspot"><stop offset="0" stop-color="#fff4ec"/><stop offset="0.4" stop-color="#f7efdc" stop-opacity="0.97"/><stop offset="0.7" stop-color="#e3e8c0" stop-opacity="0.6"/><stop offset="1" stop-color="#cfe0a0" stop-opacity="0"/></radialGradient>
<linearGradient id="gs1" gradientUnits="userSpaceOnUse" x1="150.9" y1="0" x2="221.6" y2="0"><stop offset="0" stop-color="#b9cf3c"/><stop offset="0.07" stop-color="#3d8f1f"/><stop offset="0.5" stop-color="#357f1b"/><stop offset="0.93" stop-color="#3d8f1f"/><stop offset="1" stop-color="#b9cf3c"/></linearGradient>
<clipPath id="cs1"><path d="M166.5,2128.8 C166.4,2131.9 166.2,2141.5 165.8,2147.3 C165.5,2153.2 164.6,2158.3 164.5,2163.9 C164.3,2169.4 165.4,2175.4 165.1,2180.6 C164.8,2185.9 163.1,2190.1 162.6,2195.5 C162.1,2200.8 162.1,2206.6 162.1,2212.6 C162.1,2218.6 162.9,2226.0 162.5,2231.4 C162.1,2236.9 160.2,2240.8 159.7,2245.4 C159.1,2249.9 159.3,2254.3 159.3,2258.7 C159.2,2263.1 159.4,2266.7 159.3,2271.9 C159.2,2277.1 158.7,2284.3 158.6,2290.0 C158.4,2295.6 158.4,2300.8 158.4,2306.0 C158.5,2311.1 159.1,2315.2 159.0,2320.6 C158.9,2326.1 158.3,2333.3 157.9,2338.7 C157.5,2344.1 156.8,2347.7 156.5,2353.0 C156.3,2358.4 156.3,2365.2 156.3,2370.6 C156.4,2376.1 157.3,2381.2 156.9,2386.0 C156.5,2390.7 154.5,2394.2 154.2,2399.0 C153.9,2403.8 155.4,2409.9 155.3,2414.8 C155.2,2419.7 154.2,2423.5 153.6,2428.2 C153.0,2432.9 151.6,2437.3 151.5,2442.8 C151.3,2448.4 152.8,2456.1 152.6,2461.6 C152.4,2467.2 150.7,2470.9 150.4,2476.1 C150.1,2481.3 150.8,2490.2 150.9,2493.0 L206.7,2493.0 C206.6,2490.2 206.0,2481.3 205.9,2476.1 C205.9,2470.9 206.2,2467.2 206.4,2461.6 C206.7,2456.1 207.0,2448.4 207.4,2442.8 C207.9,2437.3 208.9,2432.9 209.1,2428.2 C209.3,2423.5 208.3,2419.7 208.6,2414.8 C208.8,2409.9 210.1,2403.8 210.5,2399.0 C210.9,2394.2 210.7,2390.7 210.8,2386.0 C211.0,2381.2 211.5,2376.1 211.4,2370.6 C211.2,2365.2 210.1,2358.4 210.0,2353.0 C210.0,2347.7 210.6,2344.1 211.2,2338.7 C211.8,2333.3 213.4,2326.1 213.7,2320.6 C213.9,2315.2 212.8,2311.1 212.8,2306.0 C212.9,2300.8 213.8,2295.6 214.0,2290.0 C214.3,2284.3 214.4,2277.1 214.5,2271.9 C214.6,2266.7 214.7,2263.1 214.8,2258.7 C214.8,2254.3 215.3,2249.9 214.9,2245.4 C214.4,2240.8 212.2,2236.9 212.3,2231.4 C212.4,2226.0 214.3,2218.6 215.5,2212.6 C216.7,2206.6 218.9,2200.8 219.5,2195.5 C220.0,2190.1 218.7,2185.9 218.9,2180.6 C219.2,2175.4 220.5,2169.4 220.8,2163.9 C221.2,2158.3 221.1,2153.2 221.3,2147.3 C221.4,2141.5 221.5,2131.9 221.6,2128.8 Z"/></clipPath>
<linearGradient id="gs2" gradientUnits="userSpaceOnUse" x1="251.6" y1="0" x2="325.4" y2="0"><stop offset="0" stop-color="#9ccb2c"/><stop offset="0.07" stop-color="#35991a"/><stop offset="0.5" stop-color="#2f9517"/><stop offset="0.93" stop-color="#35991a"/><stop offset="1" stop-color="#9ccb2c"/></linearGradient>
<clipPath id="cs2"><path d="M259.2,2128.8 C259.0,2131.9 258.3,2141.5 258.0,2147.2 C257.8,2152.8 257.9,2157.7 257.7,2162.7 C257.6,2167.6 257.3,2171.9 257.1,2176.8 C256.8,2181.8 256.2,2187.1 256.0,2192.6 C255.7,2198.1 255.7,2204.1 255.5,2209.8 C255.3,2215.6 254.8,2221.4 254.6,2227.2 C254.3,2233.1 254.1,2239.2 253.9,2244.9 C253.8,2250.7 253.9,2256.0 253.7,2261.7 C253.5,2267.4 252.9,2273.5 252.6,2279.2 C252.3,2285.0 252.0,2290.7 251.9,2296.2 C251.9,2301.7 252.2,2306.8 252.3,2312.0 C252.3,2317.3 252.3,2322.8 252.2,2327.7 C252.2,2332.7 252.0,2337.1 251.9,2341.8 C251.9,2346.5 251.8,2351.4 251.8,2356.0 C251.7,2360.5 251.9,2364.0 251.9,2369.2 C251.9,2374.4 251.9,2381.7 251.9,2387.1 C251.9,2392.6 251.8,2396.7 251.8,2401.9 C251.8,2407.0 251.6,2412.5 251.7,2418.1 C251.7,2423.8 252.0,2430.5 252.0,2435.9 C252.0,2441.2 251.8,2445.1 251.8,2450.3 C251.8,2455.4 252.1,2459.7 252.1,2466.8 C252.1,2474.0 251.7,2488.6 251.6,2493.0 L316.2,2493.0 C316.2,2488.6 315.9,2474.0 316.0,2466.8 C316.1,2459.7 316.6,2455.4 316.7,2450.3 C316.8,2445.1 316.8,2441.2 316.7,2435.9 C316.6,2430.5 316.1,2423.8 316.1,2418.1 C316.1,2412.5 316.7,2407.0 316.7,2401.9 C316.8,2396.7 316.4,2392.6 316.4,2387.1 C316.4,2381.7 316.6,2374.4 316.7,2369.2 C316.7,2364.0 316.4,2360.5 316.5,2356.0 C316.7,2351.4 317.4,2346.5 317.5,2341.8 C317.7,2337.1 317.2,2332.7 317.3,2327.7 C317.4,2322.8 318.0,2317.3 318.1,2312.0 C318.2,2306.8 317.8,2301.7 318.0,2296.2 C318.3,2290.7 319.0,2285.0 319.3,2279.2 C319.6,2273.5 319.7,2267.4 320.0,2261.7 C320.3,2256.0 320.8,2250.7 321.1,2244.9 C321.3,2239.2 321.1,2233.1 321.4,2227.2 C321.7,2221.4 322.4,2215.6 322.7,2209.8 C323.0,2204.1 322.9,2198.1 323.1,2192.6 C323.3,2187.1 323.6,2181.8 323.7,2176.8 C323.9,2171.9 323.9,2167.6 324.1,2162.7 C324.3,2157.7 324.7,2152.8 324.9,2147.2 C325.2,2141.5 325.3,2131.9 325.4,2128.8 Z"/></clipPath>
<linearGradient id="gs3" gradientUnits="userSpaceOnUse" x1="364.3" y1="0" x2="429.6" y2="0"><stop offset="0" stop-color="#b4cf3a"/><stop offset="0.07" stop-color="#358f1f"/><stop offset="0.5" stop-color="#2b861b"/><stop offset="0.93" stop-color="#358f1f"/><stop offset="1" stop-color="#b4cf3a"/></linearGradient>
<clipPath id="cs3"><path d="M365.7,2128.8 C365.8,2131.6 366.3,2140.0 366.3,2145.5 C366.4,2151.0 366.2,2156.2 365.9,2161.6 C365.7,2167.0 365.1,2172.3 365.0,2177.8 C364.9,2183.2 365.2,2188.7 365.3,2194.4 C365.4,2200.0 365.3,2205.7 365.5,2211.8 C365.6,2217.8 366.2,2225.2 366.1,2230.6 C366.0,2236.0 365.0,2239.0 365.0,2244.1 C365.0,2249.2 365.8,2255.6 365.9,2261.3 C365.9,2267.0 365.6,2272.6 365.3,2278.1 C365.1,2283.6 364.6,2289.4 364.6,2294.3 C364.6,2299.2 365.3,2302.9 365.5,2307.3 C365.6,2311.8 365.6,2316.0 365.4,2320.8 C365.3,2325.5 364.7,2330.5 364.8,2335.9 C365.0,2341.3 366.1,2347.5 366.3,2353.2 C366.5,2359.0 366.1,2364.6 366.0,2370.5 C365.9,2376.5 365.8,2383.1 365.7,2389.0 C365.5,2395.0 365.5,2400.7 365.2,2406.3 C365.0,2412.0 364.5,2417.5 364.3,2423.1 C364.1,2428.6 363.9,2434.4 364.0,2439.4 C364.1,2444.4 364.8,2448.5 365.0,2452.9 C365.3,2457.4 365.6,2461.6 365.5,2466.1 C365.4,2470.6 364.6,2475.6 364.5,2480.0 C364.3,2484.5 364.3,2490.8 364.3,2493.0 L429.0,2493.0 C428.9,2490.8 428.5,2484.5 428.2,2480.0 C428.0,2475.6 427.6,2470.6 427.5,2466.1 C427.4,2461.6 427.6,2457.4 427.7,2452.9 C427.7,2448.5 428.0,2444.4 427.9,2439.4 C427.8,2434.4 427.4,2428.6 427.1,2423.1 C426.8,2417.5 426.4,2412.0 426.2,2406.3 C426.0,2400.7 426.0,2395.0 425.9,2389.0 C425.8,2383.1 425.9,2376.5 425.8,2370.5 C425.7,2364.6 425.0,2359.0 425.1,2353.2 C425.1,2347.5 426.2,2341.3 426.1,2335.9 C426.0,2330.5 424.5,2325.5 424.5,2320.8 C424.5,2316.0 425.9,2311.8 426.0,2307.3 C426.1,2302.9 425.3,2299.2 425.2,2294.3 C425.1,2289.4 425.0,2283.6 425.3,2278.1 C425.7,2272.6 426.8,2267.0 427.2,2261.3 C427.6,2255.6 427.6,2249.2 427.7,2244.1 C427.8,2239.0 427.3,2236.0 427.7,2230.6 C428.0,2225.2 429.5,2217.8 429.8,2211.8 C430.1,2205.7 429.3,2200.0 429.3,2194.4 C429.2,2188.7 429.7,2183.2 429.6,2177.8 C429.5,2172.3 428.8,2167.0 428.7,2161.6 C428.6,2156.2 429.3,2151.0 429.2,2145.5 C429.1,2140.0 428.4,2131.6 428.2,2128.8 Z"/></clipPath>
<linearGradient id="gs4" gradientUnits="userSpaceOnUse" x1="473.9" y1="0" x2="538.5" y2="0"><stop offset="0" stop-color="#9ccb2c"/><stop offset="0.07" stop-color="#33981a"/><stop offset="0.5" stop-color="#2e9518"/><stop offset="0.93" stop-color="#33981a"/><stop offset="1" stop-color="#9ccb2c"/></linearGradient>
<clipPath id="cs4"><path d="M473.9,2128.8 C474.0,2131.1 474.4,2137.6 474.5,2142.8 C474.6,2148.0 474.5,2154.2 474.6,2159.9 C474.6,2165.7 474.8,2171.6 474.9,2177.3 C475.1,2183.1 475.4,2189.1 475.4,2194.3 C475.5,2199.4 475.2,2203.6 475.2,2208.2 C475.3,2212.9 475.7,2217.7 475.9,2222.2 C476.0,2226.8 476.1,2230.3 476.2,2235.6 C476.3,2240.8 476.5,2247.9 476.5,2253.8 C476.6,2259.7 476.7,2265.4 476.6,2271.1 C476.6,2276.9 476.3,2282.5 476.4,2288.2 C476.5,2293.9 477.0,2300.0 477.1,2305.3 C477.2,2310.6 477.0,2315.4 477.0,2320.2 C477.1,2325.0 477.4,2329.5 477.4,2334.3 C477.3,2339.1 477.0,2344.1 477.0,2349.1 C477.0,2354.1 477.5,2359.4 477.5,2364.6 C477.5,2369.7 477.1,2374.7 477.2,2379.9 C477.3,2385.1 477.8,2390.1 477.9,2395.7 C478.0,2401.2 477.9,2407.4 477.9,2413.1 C478.0,2418.9 478.0,2425.0 478.0,2430.1 C478.0,2435.1 477.8,2438.2 477.9,2443.5 C478.0,2448.7 478.6,2455.8 478.6,2461.7 C478.7,2467.6 478.4,2473.5 478.4,2478.7 C478.4,2483.9 478.7,2490.6 478.8,2493.0 L538.5,2493.0 C538.5,2490.6 538.7,2483.9 538.5,2478.7 C538.4,2473.5 537.8,2467.6 537.7,2461.7 C537.5,2455.8 537.9,2448.7 537.9,2443.5 C537.8,2438.2 537.2,2435.1 537.1,2430.1 C537.0,2425.0 537.4,2418.9 537.3,2413.1 C537.2,2407.4 536.9,2401.2 536.7,2395.7 C536.5,2390.1 536.3,2385.1 536.2,2379.9 C536.1,2374.7 536.2,2369.7 536.2,2364.6 C536.2,2359.4 536.1,2354.1 536.1,2349.1 C536.1,2344.1 536.2,2339.1 536.1,2334.3 C536.1,2329.5 536.0,2325.0 535.8,2320.2 C535.7,2315.4 535.3,2310.6 535.3,2305.3 C535.3,2300.0 535.8,2293.9 535.7,2288.2 C535.7,2282.5 535.1,2276.9 535.0,2271.1 C534.9,2265.4 535.0,2259.7 534.9,2253.8 C534.8,2247.9 534.6,2240.8 534.6,2235.6 C534.6,2230.3 534.8,2226.8 534.8,2222.2 C534.8,2217.7 534.8,2212.9 534.7,2208.2 C534.6,2203.6 534.4,2199.4 534.4,2194.3 C534.3,2189.1 534.5,2183.1 534.4,2177.3 C534.3,2171.6 534.0,2165.7 533.9,2159.9 C533.8,2154.2 533.9,2148.0 533.8,2142.8 C533.8,2137.6 533.6,2131.1 533.6,2128.8 Z"/></clipPath>
<linearGradient id="gs5" gradientUnits="userSpaceOnUse" x1="583.9" y1="0" x2="645.2" y2="0"><stop offset="0" stop-color="#a7cf30"/><stop offset="0.07" stop-color="#36981b"/><stop offset="0.5" stop-color="#309317"/><stop offset="0.93" stop-color="#36981b"/><stop offset="1" stop-color="#a7cf30"/></linearGradient>
<clipPath id="cs5"><path d="M583.9,2128.8 C583.9,2131.4 584.1,2139.2 584.2,2144.5 C584.3,2149.8 584.4,2155.0 584.3,2160.7 C584.3,2166.4 583.9,2172.6 583.9,2178.8 C584.0,2185.0 584.6,2191.7 584.6,2197.8 C584.7,2203.9 584.3,2209.7 584.3,2215.2 C584.3,2220.8 584.4,2225.6 584.5,2230.9 C584.6,2236.2 584.8,2241.4 585.0,2246.9 C585.1,2252.4 585.5,2258.6 585.5,2263.9 C585.5,2269.2 585.1,2273.5 585.1,2278.6 C585.1,2283.6 585.4,2288.5 585.6,2294.0 C585.8,2299.6 586.1,2305.8 586.1,2311.7 C586.1,2317.6 585.9,2323.5 585.9,2329.7 C585.9,2335.8 586.0,2343.1 586.1,2348.4 C586.3,2353.7 586.6,2357.2 586.7,2361.6 C586.8,2366.0 586.7,2370.2 586.7,2374.9 C586.7,2379.6 586.6,2385.1 586.7,2389.9 C586.8,2394.7 587.3,2398.7 587.4,2403.7 C587.6,2408.7 587.4,2414.6 587.4,2419.9 C587.4,2425.3 587.5,2430.8 587.5,2435.8 C587.6,2440.8 587.4,2444.6 587.5,2449.8 C587.5,2455.1 587.8,2462.1 587.9,2467.3 C588.0,2472.4 587.8,2476.4 587.8,2480.7 C587.9,2485.0 588.2,2491.0 588.3,2493.0 L645.2,2493.0 C645.2,2491.0 645.2,2485.0 645.2,2480.7 C645.1,2476.4 644.9,2472.4 644.7,2467.3 C644.6,2462.1 644.4,2455.1 644.4,2449.8 C644.4,2444.6 644.8,2440.8 644.7,2435.8 C644.7,2430.8 644.5,2425.3 644.3,2419.9 C644.1,2414.6 643.8,2408.7 643.7,2403.7 C643.6,2398.7 643.7,2394.7 643.6,2389.9 C643.6,2385.1 643.4,2379.6 643.4,2374.9 C643.4,2370.2 643.7,2366.0 643.6,2361.6 C643.6,2357.2 643.1,2353.7 643.0,2348.4 C642.9,2343.1 643.1,2335.8 643.1,2329.7 C643.1,2323.5 643.2,2317.6 643.1,2311.7 C643.1,2305.8 642.9,2299.6 642.9,2294.0 C642.8,2288.5 643.0,2283.6 642.9,2278.6 C642.8,2273.5 642.3,2269.2 642.2,2263.9 C642.1,2258.6 642.2,2252.4 642.1,2246.9 C642.0,2241.4 641.8,2236.2 641.8,2230.9 C641.7,2225.6 641.8,2220.8 641.7,2215.2 C641.7,2209.7 641.5,2203.9 641.5,2197.8 C641.4,2191.7 641.2,2185.0 641.1,2178.8 C641.1,2172.6 641.3,2166.4 641.4,2160.7 C641.4,2155.0 641.4,2149.8 641.3,2144.5 C641.2,2139.2 640.9,2131.4 640.8,2128.8 Z"/></clipPath>
<linearGradient id="gs6" gradientUnits="userSpaceOnUse" x1="690.6" y1="0" x2="755.0" y2="0"><stop offset="0" stop-color="#a4c936"/><stop offset="0.07" stop-color="#348f1d"/><stop offset="0.5" stop-color="#2c891a"/><stop offset="0.93" stop-color="#348f1d"/><stop offset="1" stop-color="#a4c936"/></linearGradient>
<clipPath id="cs6"><path d="M690.6,2128.8 C690.6,2131.9 690.6,2141.9 690.7,2147.6 C690.9,2153.4 691.3,2158.2 691.3,2163.2 C691.3,2168.2 690.6,2172.9 690.6,2177.4 C690.6,2182.0 691.2,2186.2 691.4,2190.6 C691.6,2195.1 691.5,2198.9 691.5,2204.2 C691.5,2209.5 691.2,2216.4 691.4,2222.5 C691.7,2228.6 692.7,2235.6 693.0,2240.9 C693.3,2246.3 692.9,2249.4 693.2,2254.9 C693.5,2260.3 694.4,2267.7 694.9,2273.7 C695.5,2279.6 696.2,2285.6 696.3,2290.6 C696.5,2295.6 695.9,2298.6 695.8,2303.8 C695.6,2309.0 695.5,2316.2 695.5,2321.7 C695.4,2327.2 695.4,2331.2 695.3,2336.8 C695.3,2342.3 695.3,2349.4 695.1,2355.0 C694.8,2360.7 694.1,2365.0 693.9,2370.6 C693.7,2376.3 693.9,2383.5 693.9,2388.9 C693.8,2394.3 693.7,2397.5 693.6,2403.0 C693.4,2408.5 693.3,2415.7 693.1,2421.7 C692.8,2427.7 692.1,2433.5 692.2,2438.9 C692.3,2444.3 693.5,2448.7 693.4,2454.2 C693.3,2459.8 692.0,2465.8 691.8,2472.2 C691.5,2478.7 692.0,2489.5 692.0,2493.0 L755.0,2493.0 C755.0,2489.5 754.7,2478.7 754.8,2472.2 C754.9,2465.8 755.3,2459.8 755.4,2454.2 C755.5,2448.7 755.5,2444.3 755.4,2438.9 C755.3,2433.5 754.7,2427.7 754.6,2421.7 C754.5,2415.7 754.9,2408.5 754.7,2403.0 C754.6,2397.5 754.0,2394.3 753.8,2388.9 C753.5,2383.5 753.3,2376.3 753.5,2370.6 C753.6,2365.0 754.6,2360.7 754.9,2355.0 C755.1,2349.4 754.9,2342.3 755.1,2336.8 C755.2,2331.2 755.6,2327.2 755.6,2321.7 C755.5,2316.2 755.1,2309.0 754.9,2303.8 C754.7,2298.6 754.7,2295.6 754.6,2290.6 C754.6,2285.6 755.1,2279.6 754.8,2273.7 C754.5,2267.7 753.2,2260.3 752.9,2254.9 C752.5,2249.4 752.7,2246.3 752.7,2240.9 C752.7,2235.6 753.0,2228.6 752.8,2222.5 C752.7,2216.4 752.1,2209.5 751.8,2204.2 C751.5,2198.9 751.1,2195.1 750.9,2190.6 C750.7,2186.2 750.5,2182.0 750.5,2177.4 C750.6,2172.9 751.2,2168.2 751.2,2163.2 C751.3,2158.2 751.1,2153.4 750.8,2147.6 C750.4,2141.9 749.6,2131.9 749.4,2128.8 Z"/></clipPath>
<clipPath id="cs7"><path d="M794.4,2128.8 C794.5,2131.0 795.1,2136.5 795.2,2141.9 C795.2,2147.2 794.9,2155.5 794.8,2160.8 C794.8,2166.2 794.9,2169.1 795.0,2174.2 C795.2,2179.3 795.4,2185.5 795.6,2191.3 C795.7,2197.1 795.9,2203.4 796.0,2208.9 C796.0,2214.3 795.9,2219.1 796.0,2224.0 C796.1,2228.8 796.1,2233.2 796.4,2238.1 C796.7,2243.1 797.6,2248.3 797.8,2253.7 C798.0,2259.2 797.6,2265.5 797.8,2270.7 C798.0,2276.0 798.8,2280.3 798.9,2285.2 C799.1,2290.1 798.8,2295.0 798.8,2300.0 C798.9,2305.0 799.2,2310.3 799.5,2315.3 C799.7,2320.4 800.0,2324.9 800.4,2330.1 C800.7,2335.3 801.2,2341.5 801.4,2346.5 C801.6,2351.5 801.2,2355.1 801.3,2360.1 C801.5,2365.1 801.9,2371.5 802.1,2376.5 C802.4,2381.5 802.7,2385.0 802.9,2390.1 C803.1,2395.2 803.3,2401.8 803.4,2406.8 C803.5,2411.8 803.2,2415.0 803.4,2420.1 C803.5,2425.1 804.1,2431.9 804.3,2437.3 C804.5,2442.6 804.4,2446.5 804.6,2452.1 C804.8,2457.7 805.2,2464.2 805.5,2471.0 C805.8,2477.8 806.2,2489.3 806.3,2493.0 L868.6,2493.0 C868.5,2489.3 868.0,2477.8 867.9,2471.0 C867.7,2464.2 867.8,2457.7 867.6,2452.1 C867.5,2446.5 867.0,2442.6 866.8,2437.3 C866.6,2431.9 866.3,2425.1 866.2,2420.1 C866.1,2415.0 866.3,2411.8 866.2,2406.8 C866.0,2401.8 865.6,2395.2 865.4,2390.1 C865.1,2385.0 864.9,2381.5 864.6,2376.5 C864.4,2371.5 864.1,2365.1 864.0,2360.1 C863.8,2355.1 863.7,2351.5 863.5,2346.5 C863.4,2341.5 863.3,2335.3 863.1,2330.1 C862.9,2324.9 862.5,2320.4 862.3,2315.3 C862.1,2310.3 862.0,2305.0 861.9,2300.0 C861.8,2295.0 861.8,2290.1 861.6,2285.2 C861.4,2280.3 860.9,2276.0 860.9,2270.7 C860.8,2265.5 861.3,2259.2 861.2,2253.7 C861.2,2248.3 860.9,2243.1 860.7,2238.1 C860.4,2233.2 860.2,2228.8 859.9,2224.0 C859.6,2219.1 859.0,2214.3 858.8,2208.9 C858.6,2203.4 859.0,2197.1 858.7,2191.3 C858.5,2185.5 857.7,2179.3 857.4,2174.2 C857.2,2169.1 857.3,2166.2 857.2,2160.8 C857.2,2155.5 857.4,2147.2 857.3,2141.9 C857.2,2136.5 856.7,2131.0 856.6,2128.8 Z"/></clipPath>
<linearGradient id="gs8" gradientUnits="userSpaceOnUse" x1="903.9" y1="0" x2="972.3" y2="0"><stop offset="0" stop-color="#9cc72f"/><stop offset="0.07" stop-color="#2f8d1c"/><stop offset="0.5" stop-color="#2a871a"/><stop offset="0.93" stop-color="#2f8d1c"/><stop offset="1" stop-color="#9cc72f"/></linearGradient>
<clipPath id="cs8"><path d="M903.9,2128.8 C903.9,2131.1 903.9,2137.3 903.9,2142.3 C903.9,2147.4 903.8,2153.4 903.8,2159.2 C903.8,2165.0 903.7,2171.7 903.8,2177.1 C903.9,2182.6 904.4,2186.7 904.6,2192.0 C904.7,2197.2 904.8,2203.3 904.8,2208.7 C904.7,2214.1 904.2,2219.6 904.2,2224.4 C904.2,2229.2 904.8,2232.6 904.8,2237.5 C904.8,2242.4 904.4,2248.7 904.4,2253.9 C904.4,2259.2 904.8,2263.6 904.8,2268.8 C904.9,2274.1 904.8,2279.6 904.9,2285.4 C905.0,2291.3 905.4,2298.1 905.6,2303.9 C905.8,2309.7 906.0,2315.0 906.1,2320.2 C906.3,2325.5 906.3,2330.1 906.4,2335.4 C906.5,2340.8 906.6,2346.6 906.7,2352.2 C906.8,2357.7 906.8,2363.3 906.9,2368.5 C906.9,2373.7 906.9,2378.4 907.0,2383.1 C907.2,2387.9 907.6,2392.5 907.6,2397.1 C907.7,2401.7 907.5,2405.8 907.6,2410.5 C907.7,2415.2 908.1,2420.4 908.3,2425.1 C908.5,2429.9 908.8,2434.3 908.9,2439.1 C909.0,2443.8 908.9,2448.2 908.8,2453.6 C908.8,2459.0 908.6,2464.8 908.7,2471.3 C908.8,2477.9 909.5,2489.4 909.6,2493.0 L972.3,2493.0 C972.2,2489.4 972.1,2477.9 971.9,2471.3 C971.8,2464.8 971.6,2459.0 971.6,2453.6 C971.5,2448.2 971.7,2443.8 971.7,2439.1 C971.6,2434.3 971.3,2429.9 971.3,2425.1 C971.2,2420.4 971.5,2415.2 971.5,2410.5 C971.4,2405.8 971.2,2401.7 971.0,2397.1 C970.8,2392.5 970.6,2387.9 970.6,2383.1 C970.5,2378.4 971.0,2373.7 970.9,2368.5 C970.9,2363.3 970.4,2357.7 970.3,2352.2 C970.2,2346.6 970.4,2340.8 970.2,2335.4 C970.1,2330.1 969.6,2325.5 969.6,2320.2 C969.5,2315.0 969.9,2309.7 969.8,2303.9 C969.7,2298.1 969.2,2291.3 969.2,2285.4 C969.1,2279.6 969.5,2274.1 969.5,2268.8 C969.5,2263.6 969.4,2259.2 969.3,2253.9 C969.1,2248.7 968.6,2242.4 968.5,2237.5 C968.4,2232.6 968.7,2229.2 968.6,2224.4 C968.5,2219.6 968.0,2214.1 967.9,2208.7 C967.7,2203.3 967.9,2197.2 967.8,2192.0 C967.7,2186.7 967.4,2182.6 967.3,2177.1 C967.2,2171.7 967.3,2165.0 967.2,2159.2 C967.1,2153.4 966.8,2147.4 966.8,2142.3 C966.7,2137.3 967.0,2131.1 967.0,2128.8 Z"/></clipPath>
<clipPath id="ca1"><path d="M1132.7,2128.8 C1131.8,2139.1 1128.9,2171.5 1127.4,2190.6 C1125.9,2209.7 1125.3,2225.9 1123.8,2243.6 C1122.3,2261.3 1119.5,2276.0 1118.5,2296.6 C1117.5,2317.2 1117.8,2349.5 1117.7,2367.2 C1117.6,2384.8 1117.7,2381.5 1117.7,2402.5 C1117.7,2423.5 1117.7,2477.9 1117.7,2493.0 L1221.8,2493.0 C1221.2,2477.9 1219.5,2423.5 1218.3,2402.5 C1217.1,2381.5 1214.9,2384.8 1214.8,2367.2 C1214.7,2349.5 1217.1,2317.2 1217.4,2296.6 C1217.7,2276.0 1217.2,2261.3 1216.5,2243.6 C1215.8,2225.9 1213.9,2209.7 1213.0,2190.6 C1212.1,2171.5 1211.5,2139.1 1211.2,2128.8 Z"/></clipPath>
<clipPath id="ca2"><path d="M1236.9,2128.8 C1236.8,2139.1 1236.3,2171.5 1236.0,2190.6 C1235.7,2209.7 1235.7,2225.9 1235.1,2243.6 C1234.5,2261.3 1233.3,2281.9 1232.4,2296.6 C1231.5,2311.3 1230.4,2320.1 1229.8,2331.9 C1229.2,2343.7 1229.2,2340.3 1228.9,2367.2 C1228.6,2394.0 1228.2,2472.0 1228.0,2493.0 L1331.3,2493.0 C1330.6,2472.0 1327.9,2394.0 1326.9,2367.2 C1325.9,2340.3 1325.6,2343.7 1325.2,2331.9 C1324.8,2320.1 1325.2,2311.3 1324.3,2296.6 C1323.4,2281.9 1321.1,2261.3 1319.9,2243.6 C1318.7,2225.9 1318.1,2209.7 1317.2,2190.6 C1316.3,2171.5 1315.0,2139.1 1314.6,2128.8 Z"/></clipPath>
<clipPath id="ca3"><path d="M1353.8,2128.8 C1353.6,2139.1 1353.2,2171.5 1352.6,2190.6 C1352.0,2209.7 1351.2,2225.9 1350.3,2243.6 C1349.4,2261.3 1347.9,2276.0 1347.3,2296.6 C1346.7,2317.2 1347.6,2334.5 1346.8,2367.2 C1346.0,2399.9 1343.1,2472.0 1342.4,2493.0 L1437.2,2493.0 C1436.4,2472.0 1432.7,2399.9 1432.4,2367.2 C1432.1,2334.5 1434.7,2317.2 1435.6,2296.6 C1436.5,2276.0 1437.5,2261.3 1437.7,2243.6 C1437.9,2225.9 1437.3,2209.7 1436.5,2190.6 C1435.7,2171.5 1433.6,2139.1 1433.0,2128.8 Z"/></clipPath>
<clipPath id="ca4"><path d="M1455.7,2128.8 C1455.3,2139.1 1454.0,2171.5 1453.6,2190.6 C1453.2,2209.7 1453.6,2225.9 1453.1,2243.6 C1452.6,2261.3 1451.1,2276.0 1450.6,2296.6 C1450.1,2317.2 1450.5,2346.6 1450.1,2367.2 C1449.7,2387.8 1448.4,2408.4 1448.3,2420.2 C1448.2,2432.0 1448.5,2425.8 1449.2,2437.9 C1449.9,2450.0 1452.1,2483.8 1452.7,2493.0 L1541.9,2493.0 C1541.9,2483.8 1542.5,2450.0 1541.9,2437.9 C1541.3,2425.8 1539.3,2432.0 1538.4,2420.2 C1537.5,2408.4 1536.8,2387.8 1536.3,2367.2 C1535.8,2346.6 1535.7,2317.2 1535.7,2296.6 C1535.7,2276.0 1536.5,2261.3 1536.3,2243.6 C1536.1,2225.9 1536.0,2209.7 1534.8,2190.6 C1533.6,2171.5 1530.1,2139.1 1529.2,2128.8 Z"/></clipPath>
<clipPath id="ca5"><path d="M1557.7,2128.8 C1557.4,2139.1 1556.4,2171.5 1555.9,2190.6 C1555.4,2209.7 1554.8,2225.9 1554.5,2243.6 C1554.2,2261.3 1554.0,2276.0 1554.1,2296.6 C1554.2,2317.2 1555.2,2346.6 1555.0,2367.2 C1554.8,2387.8 1553.5,2399.2 1553.2,2420.2 C1552.9,2441.2 1553.2,2480.9 1553.2,2493.0 L1660.0,2493.0 C1659.3,2480.9 1657.5,2441.2 1655.7,2420.2 C1653.9,2399.2 1649.8,2387.8 1649.1,2367.2 C1648.3,2346.6 1651.1,2317.2 1651.2,2296.6 C1651.3,2276.0 1650.6,2261.3 1649.5,2243.6 C1648.4,2225.9 1646.3,2209.7 1644.5,2190.6 C1642.7,2171.5 1639.5,2139.1 1638.5,2128.8 Z"/></clipPath>
<clipPath id="ca6"><path d="M1674.6,2128.8 C1674.2,2139.1 1673.0,2171.5 1672.4,2190.6 C1671.8,2209.7 1671.4,2225.9 1671.0,2243.6 C1670.6,2261.3 1670.4,2276.0 1669.8,2296.6 C1669.2,2317.2 1668.0,2346.6 1667.5,2367.2 C1667.0,2387.8 1666.9,2399.2 1666.8,2420.2 C1666.7,2441.2 1667.0,2480.9 1667.1,2493.0 L1767.4,2493.0 C1767.3,2480.9 1767.3,2441.2 1766.9,2420.2 C1766.5,2399.2 1765.5,2387.8 1765.1,2367.2 C1764.7,2346.6 1764.7,2317.2 1764.3,2296.6 C1763.9,2276.0 1763.4,2261.3 1762.8,2243.6 C1762.2,2225.9 1762.2,2209.7 1760.7,2190.6 C1759.2,2171.5 1755.1,2139.1 1754.0,2128.8 Z"/></clipPath>
<clipPath id="ca7"><path d="M1796.6,2128.8 C1796.0,2139.1 1794.2,2171.5 1793.0,2190.6 C1791.8,2209.7 1790.4,2225.9 1789.5,2243.6 C1788.6,2261.3 1788.6,2276.0 1787.7,2296.6 C1786.8,2317.2 1785.1,2346.6 1784.2,2367.2 C1783.3,2387.8 1783.2,2399.2 1782.4,2420.2 C1781.6,2441.2 1779.9,2480.9 1779.4,2493.0 L1886.6,2493.0 C1886.2,2480.9 1884.7,2441.2 1884.0,2420.2 C1883.3,2399.2 1883.0,2387.8 1882.6,2367.2 C1882.1,2346.6 1881.6,2317.2 1881.3,2296.6 C1881.0,2276.0 1881.1,2261.3 1880.8,2243.6 C1880.5,2225.9 1880.2,2209.7 1879.6,2190.6 C1879.0,2171.5 1877.8,2139.1 1877.4,2128.8 Z"/></clipPath>
<clipPath id="ca8"><path d="M1912.6,2128.8 C1912.0,2139.1 1910.1,2171.5 1909.0,2190.6 C1907.9,2209.7 1906.8,2225.9 1906.0,2243.6 C1905.2,2261.3 1905.1,2276.0 1904.3,2296.6 C1903.5,2317.2 1902.2,2346.6 1901.3,2367.2 C1900.4,2387.8 1900.0,2399.2 1899.0,2420.2 C1898.0,2441.2 1896.0,2480.9 1895.4,2493.0 L1989.0,2493.0 C1988.9,2480.9 1988.7,2441.2 1988.5,2420.2 C1988.3,2399.2 1988.0,2387.8 1987.8,2367.2 C1987.6,2346.6 1987.5,2317.2 1987.3,2296.6 C1987.1,2276.0 1987.0,2261.3 1986.7,2243.6 C1986.4,2225.9 1986.0,2209.7 1985.5,2190.6 C1985.0,2171.5 1984.0,2139.1 1983.7,2128.8 Z"/></clipPath>
<linearGradient id="gs7" gradientUnits="userSpaceOnUse" x1="794" y1="0" x2="869" y2="0"><stop offset="0" stop-color="#6fb02a"/><stop offset="0.08" stop-color="#43a021"/><stop offset="0.42" stop-color="#3d9b1f"/><stop offset="0.6" stop-color="#63b524"/><stop offset="0.85" stop-color="#86c722"/><stop offset="1" stop-color="#a2d02e"/></linearGradient>
</defs>
<rect x="147" y="2128.7" width="827.6" height="364.3" fill="#fbfbfb"/>
<path d="M147,2248.5 L330,2250 L600,2251.5 L975,2256" stroke="#e9e9e6" stroke-width="1.3" fill="none"/>
<g clip-path="url(#cs1)">
<rect x="148" y="2126" width="75" height="370"  fill="url(#gs1)"/>
<rect x="148" y="2126" width="75" height="370" fill="#fff" filter="url(#fmot)" opacity="0.75"/>
<rect x="148" y="2126" width="75" height="370" fill="#fff" filter="url(#fspk2)" opacity="0.55"/>
<rect x="148" y="2126" width="75" height="370" fill="#fff" filter="url(#fvein)" opacity="0.70"/>
<rect x="148" y="2126" width="75" height="370" fill="#fff" filter="url(#fspk)" opacity="1.00"/>
<rect x="148" y="2126" width="75" height="370" fill="#fff" filter="url(#fveinL)" opacity="0.35"/>
<path d="M166.5,2128.8 C166.4,2131.9 166.2,2141.5 165.8,2147.3 C165.5,2153.2 164.6,2158.3 164.5,2163.9 C164.3,2169.4 165.4,2175.4 165.1,2180.6 C164.8,2185.9 163.1,2190.1 162.6,2195.5 C162.1,2200.8 162.1,2206.6 162.1,2212.6 C162.1,2218.6 162.9,2226.0 162.5,2231.4 C162.1,2236.9 160.2,2240.8 159.7,2245.4 C159.1,2249.9 159.3,2254.3 159.3,2258.7 C159.2,2263.1 159.4,2266.7 159.3,2271.9 C159.2,2277.1 158.7,2284.3 158.6,2290.0 C158.4,2295.6 158.4,2300.8 158.4,2306.0 C158.5,2311.1 159.1,2315.2 159.0,2320.6 C158.9,2326.1 158.3,2333.3 157.9,2338.7 C157.5,2344.1 156.8,2347.7 156.5,2353.0 C156.3,2358.4 156.3,2365.2 156.3,2370.6 C156.4,2376.1 157.3,2381.2 156.9,2386.0 C156.5,2390.7 154.5,2394.2 154.2,2399.0 C153.9,2403.8 155.4,2409.9 155.3,2414.8 C155.2,2419.7 154.2,2423.5 153.6,2428.2 C153.0,2432.9 151.6,2437.3 151.5,2442.8 C151.3,2448.4 152.8,2456.1 152.6,2461.6 C152.4,2467.2 150.7,2470.9 150.4,2476.1 C150.1,2481.3 150.8,2490.2 150.9,2493.0 M206.7,2493.0 C206.6,2490.2 206.0,2481.3 205.9,2476.1 C205.9,2470.9 206.2,2467.2 206.4,2461.6 C206.7,2456.1 207.0,2448.4 207.4,2442.8 C207.9,2437.3 208.9,2432.9 209.1,2428.2 C209.3,2423.5 208.3,2419.7 208.6,2414.8 C208.8,2409.9 210.1,2403.8 210.5,2399.0 C210.9,2394.2 210.7,2390.7 210.8,2386.0 C211.0,2381.2 211.5,2376.1 211.4,2370.6 C211.2,2365.2 210.1,2358.4 210.0,2353.0 C210.0,2347.7 210.6,2344.1 211.2,2338.7 C211.8,2333.3 213.4,2326.1 213.7,2320.6 C213.9,2315.2 212.8,2311.1 212.8,2306.0 C212.9,2300.8 213.8,2295.6 214.0,2290.0 C214.3,2284.3 214.4,2277.1 214.5,2271.9 C214.6,2266.7 214.7,2263.1 214.8,2258.7 C214.8,2254.3 215.3,2249.9 214.9,2245.4 C214.4,2240.8 212.2,2236.9 212.3,2231.4 C212.4,2226.0 214.3,2218.6 215.5,2212.6 C216.7,2206.6 218.9,2200.8 219.5,2195.5 C220.0,2190.1 218.7,2185.9 218.9,2180.6 C219.2,2175.4 220.5,2169.4 220.8,2163.9 C221.2,2158.3 221.1,2153.2 221.3,2147.3 C221.4,2141.5 221.5,2131.9 221.6,2128.8" fill="none" stroke="#b9cf3c" stroke-width="4" stroke-dasharray="40 8 25 14 60 10" opacity="0.85" filter="url(#blur1)"/>
</g>
<g clip-path="url(#cs2)">
<rect x="250" y="2126" width="78" height="370"  fill="url(#gs2)"/>
<rect x="250" y="2126" width="78" height="370" fill="#fff" filter="url(#fmot)" opacity="0.30"/>
<rect x="250" y="2126" width="78" height="370" fill="#fff" filter="url(#fspk2)" opacity="0.44"/>
<rect x="250" y="2126" width="78" height="370" fill="#fff" filter="url(#fvein)" opacity="0.56"/>
<rect x="250" y="2126" width="78" height="370" fill="#fff" filter="url(#fspk)" opacity="0.60"/>
<rect x="250" y="2126" width="78" height="370" fill="#fff" filter="url(#fveinL)" opacity="0.21"/>
<path d="M259.2,2128.8 C259.0,2131.9 258.3,2141.5 258.0,2147.2 C257.8,2152.8 257.9,2157.7 257.7,2162.7 C257.6,2167.6 257.3,2171.9 257.1,2176.8 C256.8,2181.8 256.2,2187.1 256.0,2192.6 C255.7,2198.1 255.7,2204.1 255.5,2209.8 C255.3,2215.6 254.8,2221.4 254.6,2227.2 C254.3,2233.1 254.1,2239.2 253.9,2244.9 C253.8,2250.7 253.9,2256.0 253.7,2261.7 C253.5,2267.4 252.9,2273.5 252.6,2279.2 C252.3,2285.0 252.0,2290.7 251.9,2296.2 C251.9,2301.7 252.2,2306.8 252.3,2312.0 C252.3,2317.3 252.3,2322.8 252.2,2327.7 C252.2,2332.7 252.0,2337.1 251.9,2341.8 C251.9,2346.5 251.8,2351.4 251.8,2356.0 C251.7,2360.5 251.9,2364.0 251.9,2369.2 C251.9,2374.4 251.9,2381.7 251.9,2387.1 C251.9,2392.6 251.8,2396.7 251.8,2401.9 C251.8,2407.0 251.6,2412.5 251.7,2418.1 C251.7,2423.8 252.0,2430.5 252.0,2435.9 C252.0,2441.2 251.8,2445.1 251.8,2450.3 C251.8,2455.4 252.1,2459.7 252.1,2466.8 C252.1,2474.0 251.7,2488.6 251.6,2493.0 M316.2,2493.0 C316.2,2488.6 315.9,2474.0 316.0,2466.8 C316.1,2459.7 316.6,2455.4 316.7,2450.3 C316.8,2445.1 316.8,2441.2 316.7,2435.9 C316.6,2430.5 316.1,2423.8 316.1,2418.1 C316.1,2412.5 316.7,2407.0 316.7,2401.9 C316.8,2396.7 316.4,2392.6 316.4,2387.1 C316.4,2381.7 316.6,2374.4 316.7,2369.2 C316.7,2364.0 316.4,2360.5 316.5,2356.0 C316.7,2351.4 317.4,2346.5 317.5,2341.8 C317.7,2337.1 317.2,2332.7 317.3,2327.7 C317.4,2322.8 318.0,2317.3 318.1,2312.0 C318.2,2306.8 317.8,2301.7 318.0,2296.2 C318.3,2290.7 319.0,2285.0 319.3,2279.2 C319.6,2273.5 319.7,2267.4 320.0,2261.7 C320.3,2256.0 320.8,2250.7 321.1,2244.9 C321.3,2239.2 321.1,2233.1 321.4,2227.2 C321.7,2221.4 322.4,2215.6 322.7,2209.8 C323.0,2204.1 322.9,2198.1 323.1,2192.6 C323.3,2187.1 323.6,2181.8 323.7,2176.8 C323.9,2171.9 323.9,2167.6 324.1,2162.7 C324.3,2157.7 324.7,2152.8 324.9,2147.2 C325.2,2141.5 325.3,2131.9 325.4,2128.8" fill="none" stroke="#9ccb2c" stroke-width="4" stroke-dasharray="20 30 12 44" opacity="0.35" filter="url(#blur1)"/>
</g>
<g clip-path="url(#cs3)">
<rect x="362" y="2126" width="70" height="370"  fill="url(#gs3)"/>
<rect x="362" y="2126" width="70" height="370" fill="#fff" filter="url(#fmot)" opacity="0.60"/>
<rect x="362" y="2126" width="70" height="370" fill="#fff" filter="url(#fspk2)" opacity="0.72"/>
<rect x="362" y="2126" width="70" height="370" fill="#fff" filter="url(#fvein)" opacity="0.91"/>
<rect x="362" y="2126" width="70" height="370" fill="#fff" filter="url(#fspk)" opacity="1.00"/>
<rect x="362" y="2126" width="70" height="370" fill="#fff" filter="url(#fveinL)" opacity="0.36"/>
<path d="M365.7,2128.8 C365.8,2131.6 366.3,2140.0 366.3,2145.5 C366.4,2151.0 366.2,2156.2 365.9,2161.6 C365.7,2167.0 365.1,2172.3 365.0,2177.8 C364.9,2183.2 365.2,2188.7 365.3,2194.4 C365.4,2200.0 365.3,2205.7 365.5,2211.8 C365.6,2217.8 366.2,2225.2 366.1,2230.6 C366.0,2236.0 365.0,2239.0 365.0,2244.1 C365.0,2249.2 365.8,2255.6 365.9,2261.3 C365.9,2267.0 365.6,2272.6 365.3,2278.1 C365.1,2283.6 364.6,2289.4 364.6,2294.3 C364.6,2299.2 365.3,2302.9 365.5,2307.3 C365.6,2311.8 365.6,2316.0 365.4,2320.8 C365.3,2325.5 364.7,2330.5 364.8,2335.9 C365.0,2341.3 366.1,2347.5 366.3,2353.2 C366.5,2359.0 366.1,2364.6 366.0,2370.5 C365.9,2376.5 365.8,2383.1 365.7,2389.0 C365.5,2395.0 365.5,2400.7 365.2,2406.3 C365.0,2412.0 364.5,2417.5 364.3,2423.1 C364.1,2428.6 363.9,2434.4 364.0,2439.4 C364.1,2444.4 364.8,2448.5 365.0,2452.9 C365.3,2457.4 365.6,2461.6 365.5,2466.1 C365.4,2470.6 364.6,2475.6 364.5,2480.0 C364.3,2484.5 364.3,2490.8 364.3,2493.0 M429.0,2493.0 C428.9,2490.8 428.5,2484.5 428.2,2480.0 C428.0,2475.6 427.6,2470.6 427.5,2466.1 C427.4,2461.6 427.6,2457.4 427.7,2452.9 C427.7,2448.5 428.0,2444.4 427.9,2439.4 C427.8,2434.4 427.4,2428.6 427.1,2423.1 C426.8,2417.5 426.4,2412.0 426.2,2406.3 C426.0,2400.7 426.0,2395.0 425.9,2389.0 C425.8,2383.1 425.9,2376.5 425.8,2370.5 C425.7,2364.6 425.0,2359.0 425.1,2353.2 C425.1,2347.5 426.2,2341.3 426.1,2335.9 C426.0,2330.5 424.5,2325.5 424.5,2320.8 C424.5,2316.0 425.9,2311.8 426.0,2307.3 C426.1,2302.9 425.3,2299.2 425.2,2294.3 C425.1,2289.4 425.0,2283.6 425.3,2278.1 C425.7,2272.6 426.8,2267.0 427.2,2261.3 C427.6,2255.6 427.6,2249.2 427.7,2244.1 C427.8,2239.0 427.3,2236.0 427.7,2230.6 C428.0,2225.2 429.5,2217.8 429.8,2211.8 C430.1,2205.7 429.3,2200.0 429.3,2194.4 C429.2,2188.7 429.7,2183.2 429.6,2177.8 C429.5,2172.3 428.8,2167.0 428.7,2161.6 C428.6,2156.2 429.3,2151.0 429.2,2145.5 C429.1,2140.0 428.4,2131.6 428.2,2128.8" fill="none" stroke="#b4cf3a" stroke-width="4" stroke-dasharray="50 10 30 12" opacity="0.8" filter="url(#blur1)"/>
</g>
<g clip-path="url(#cs4)">
<rect x="472" y="2126" width="69" height="370"  fill="url(#gs4)"/>
<rect x="472" y="2126" width="69" height="370" fill="#fff" filter="url(#fmot)" opacity="0.30"/>
<rect x="472" y="2126" width="69" height="370" fill="#fff" filter="url(#fspk2)" opacity="0.50"/>
<rect x="472" y="2126" width="69" height="370" fill="#fff" filter="url(#fvein)" opacity="0.63"/>
<rect x="472" y="2126" width="69" height="370" fill="#fff" filter="url(#fspk)" opacity="0.64"/>
<rect x="472" y="2126" width="69" height="370" fill="#fff" filter="url(#fveinL)" opacity="0.22"/>
<path d="M473.9,2128.8 C474.0,2131.1 474.4,2137.6 474.5,2142.8 C474.6,2148.0 474.5,2154.2 474.6,2159.9 C474.6,2165.7 474.8,2171.6 474.9,2177.3 C475.1,2183.1 475.4,2189.1 475.4,2194.3 C475.5,2199.4 475.2,2203.6 475.2,2208.2 C475.3,2212.9 475.7,2217.7 475.9,2222.2 C476.0,2226.8 476.1,2230.3 476.2,2235.6 C476.3,2240.8 476.5,2247.9 476.5,2253.8 C476.6,2259.7 476.7,2265.4 476.6,2271.1 C476.6,2276.9 476.3,2282.5 476.4,2288.2 C476.5,2293.9 477.0,2300.0 477.1,2305.3 C477.2,2310.6 477.0,2315.4 477.0,2320.2 C477.1,2325.0 477.4,2329.5 477.4,2334.3 C477.3,2339.1 477.0,2344.1 477.0,2349.1 C477.0,2354.1 477.5,2359.4 477.5,2364.6 C477.5,2369.7 477.1,2374.7 477.2,2379.9 C477.3,2385.1 477.8,2390.1 477.9,2395.7 C478.0,2401.2 477.9,2407.4 477.9,2413.1 C478.0,2418.9 478.0,2425.0 478.0,2430.1 C478.0,2435.1 477.8,2438.2 477.9,2443.5 C478.0,2448.7 478.6,2455.8 478.6,2461.7 C478.7,2467.6 478.4,2473.5 478.4,2478.7 C478.4,2483.9 478.7,2490.6 478.8,2493.0 M538.5,2493.0 C538.5,2490.6 538.7,2483.9 538.5,2478.7 C538.4,2473.5 537.8,2467.6 537.7,2461.7 C537.5,2455.8 537.9,2448.7 537.9,2443.5 C537.8,2438.2 537.2,2435.1 537.1,2430.1 C537.0,2425.0 537.4,2418.9 537.3,2413.1 C537.2,2407.4 536.9,2401.2 536.7,2395.7 C536.5,2390.1 536.3,2385.1 536.2,2379.9 C536.1,2374.7 536.2,2369.7 536.2,2364.6 C536.2,2359.4 536.1,2354.1 536.1,2349.1 C536.1,2344.1 536.2,2339.1 536.1,2334.3 C536.1,2329.5 536.0,2325.0 535.8,2320.2 C535.7,2315.4 535.3,2310.6 535.3,2305.3 C535.3,2300.0 535.8,2293.9 535.7,2288.2 C535.7,2282.5 535.1,2276.9 535.0,2271.1 C534.9,2265.4 535.0,2259.7 534.9,2253.8 C534.8,2247.9 534.6,2240.8 534.6,2235.6 C534.6,2230.3 534.8,2226.8 534.8,2222.2 C534.8,2217.7 534.8,2212.9 534.7,2208.2 C534.6,2203.6 534.4,2199.4 534.4,2194.3 C534.3,2189.1 534.5,2183.1 534.4,2177.3 C534.3,2171.6 534.0,2165.7 533.9,2159.9 C533.8,2154.2 533.9,2148.0 533.8,2142.8 C533.8,2137.6 533.6,2131.1 533.6,2128.8" fill="none" stroke="#9ccb2c" stroke-width="4" stroke-dasharray="14 40 24 50" opacity="0.35" filter="url(#blur1)"/>
</g>
<g clip-path="url(#cs5)">
<rect x="582" y="2126" width="65" height="370"  fill="url(#gs5)"/>
<rect x="582" y="2126" width="65" height="370" fill="#fff" filter="url(#fmot)" opacity="0.30"/>
<rect x="582" y="2126" width="65" height="370" fill="#fff" filter="url(#fspk2)" opacity="0.44"/>
<rect x="582" y="2126" width="65" height="370" fill="#fff" filter="url(#fvein)" opacity="0.56"/>
<rect x="582" y="2126" width="65" height="370" fill="#fff" filter="url(#fspk)" opacity="0.64"/>
<rect x="582" y="2126" width="65" height="370" fill="#fff" filter="url(#fveinL)" opacity="0.22"/>
<path d="M583.9,2128.8 C583.9,2131.4 584.1,2139.2 584.2,2144.5 C584.3,2149.8 584.4,2155.0 584.3,2160.7 C584.3,2166.4 583.9,2172.6 583.9,2178.8 C584.0,2185.0 584.6,2191.7 584.6,2197.8 C584.7,2203.9 584.3,2209.7 584.3,2215.2 C584.3,2220.8 584.4,2225.6 584.5,2230.9 C584.6,2236.2 584.8,2241.4 585.0,2246.9 C585.1,2252.4 585.5,2258.6 585.5,2263.9 C585.5,2269.2 585.1,2273.5 585.1,2278.6 C585.1,2283.6 585.4,2288.5 585.6,2294.0 C585.8,2299.6 586.1,2305.8 586.1,2311.7 C586.1,2317.6 585.9,2323.5 585.9,2329.7 C585.9,2335.8 586.0,2343.1 586.1,2348.4 C586.3,2353.7 586.6,2357.2 586.7,2361.6 C586.8,2366.0 586.7,2370.2 586.7,2374.9 C586.7,2379.6 586.6,2385.1 586.7,2389.9 C586.8,2394.7 587.3,2398.7 587.4,2403.7 C587.6,2408.7 587.4,2414.6 587.4,2419.9 C587.4,2425.3 587.5,2430.8 587.5,2435.8 C587.6,2440.8 587.4,2444.6 587.5,2449.8 C587.5,2455.1 587.8,2462.1 587.9,2467.3 C588.0,2472.4 587.8,2476.4 587.8,2480.7 C587.9,2485.0 588.2,2491.0 588.3,2493.0 M645.2,2493.0 C645.2,2491.0 645.2,2485.0 645.2,2480.7 C645.1,2476.4 644.9,2472.4 644.7,2467.3 C644.6,2462.1 644.4,2455.1 644.4,2449.8 C644.4,2444.6 644.8,2440.8 644.7,2435.8 C644.7,2430.8 644.5,2425.3 644.3,2419.9 C644.1,2414.6 643.8,2408.7 643.7,2403.7 C643.6,2398.7 643.7,2394.7 643.6,2389.9 C643.6,2385.1 643.4,2379.6 643.4,2374.9 C643.4,2370.2 643.7,2366.0 643.6,2361.6 C643.6,2357.2 643.1,2353.7 643.0,2348.4 C642.9,2343.1 643.1,2335.8 643.1,2329.7 C643.1,2323.5 643.2,2317.6 643.1,2311.7 C643.1,2305.8 642.9,2299.6 642.9,2294.0 C642.8,2288.5 643.0,2283.6 642.9,2278.6 C642.8,2273.5 642.3,2269.2 642.2,2263.9 C642.1,2258.6 642.2,2252.4 642.1,2246.9 C642.0,2241.4 641.8,2236.2 641.8,2230.9 C641.7,2225.6 641.8,2220.8 641.7,2215.2 C641.7,2209.7 641.5,2203.9 641.5,2197.8 C641.4,2191.7 641.2,2185.0 641.1,2178.8 C641.1,2172.6 641.3,2166.4 641.4,2160.7 C641.4,2155.0 641.4,2149.8 641.3,2144.5 C641.2,2139.2 640.9,2131.4 640.8,2128.8" fill="none" stroke="#a7cf30" stroke-width="4" stroke-dasharray="30 24 18 40" opacity="0.5" filter="url(#blur1)"/>
</g>
<g clip-path="url(#cs6)">
<rect x="689" y="2126" width="69" height="370"  fill="url(#gs6)"/>
<rect x="689" y="2126" width="69" height="370" fill="#fff" filter="url(#fmot)" opacity="0.50"/>
<rect x="689" y="2126" width="69" height="370" fill="#fff" filter="url(#fspk2)" opacity="0.55"/>
<rect x="689" y="2126" width="69" height="370" fill="#fff" filter="url(#fvein)" opacity="0.70"/>
<rect x="689" y="2126" width="69" height="370" fill="#fff" filter="url(#fspk)" opacity="0.84"/>
<rect x="689" y="2126" width="69" height="370" fill="#fff" filter="url(#fveinL)" opacity="0.29"/>
<path d="M690.6,2128.8 C690.6,2131.9 690.6,2141.9 690.7,2147.6 C690.9,2153.4 691.3,2158.2 691.3,2163.2 C691.3,2168.2 690.6,2172.9 690.6,2177.4 C690.6,2182.0 691.2,2186.2 691.4,2190.6 C691.6,2195.1 691.5,2198.9 691.5,2204.2 C691.5,2209.5 691.2,2216.4 691.4,2222.5 C691.7,2228.6 692.7,2235.6 693.0,2240.9 C693.3,2246.3 692.9,2249.4 693.2,2254.9 C693.5,2260.3 694.4,2267.7 694.9,2273.7 C695.5,2279.6 696.2,2285.6 696.3,2290.6 C696.5,2295.6 695.9,2298.6 695.8,2303.8 C695.6,2309.0 695.5,2316.2 695.5,2321.7 C695.4,2327.2 695.4,2331.2 695.3,2336.8 C695.3,2342.3 695.3,2349.4 695.1,2355.0 C694.8,2360.7 694.1,2365.0 693.9,2370.6 C693.7,2376.3 693.9,2383.5 693.9,2388.9 C693.8,2394.3 693.7,2397.5 693.6,2403.0 C693.4,2408.5 693.3,2415.7 693.1,2421.7 C692.8,2427.7 692.1,2433.5 692.2,2438.9 C692.3,2444.3 693.5,2448.7 693.4,2454.2 C693.3,2459.8 692.0,2465.8 691.8,2472.2 C691.5,2478.7 692.0,2489.5 692.0,2493.0 M755.0,2493.0 C755.0,2489.5 754.7,2478.7 754.8,2472.2 C754.9,2465.8 755.3,2459.8 755.4,2454.2 C755.5,2448.7 755.5,2444.3 755.4,2438.9 C755.3,2433.5 754.7,2427.7 754.6,2421.7 C754.5,2415.7 754.9,2408.5 754.7,2403.0 C754.6,2397.5 754.0,2394.3 753.8,2388.9 C753.5,2383.5 753.3,2376.3 753.5,2370.6 C753.6,2365.0 754.6,2360.7 754.9,2355.0 C755.1,2349.4 754.9,2342.3 755.1,2336.8 C755.2,2331.2 755.6,2327.2 755.6,2321.7 C755.5,2316.2 755.1,2309.0 754.9,2303.8 C754.7,2298.6 754.7,2295.6 754.6,2290.6 C754.6,2285.6 755.1,2279.6 754.8,2273.7 C754.5,2267.7 753.2,2260.3 752.9,2254.9 C752.5,2249.4 752.7,2246.3 752.7,2240.9 C752.7,2235.6 753.0,2228.6 752.8,2222.5 C752.7,2216.4 752.1,2209.5 751.8,2204.2 C751.5,2198.9 751.1,2195.1 750.9,2190.6 C750.7,2186.2 750.5,2182.0 750.5,2177.4 C750.6,2172.9 751.2,2168.2 751.2,2163.2 C751.3,2158.2 751.1,2153.4 750.8,2147.6 C750.4,2141.9 749.6,2131.9 749.4,2128.8" fill="none" stroke="#a4c936" stroke-width="4" stroke-dasharray="36 16 22 30" opacity="0.55" filter="url(#blur1)"/>
</g>
<g clip-path="url(#cs7)">
<rect x="792" y="2126" width="78" height="370"  fill="url(#gs7)"/>
<g filter="url(#frough)">
<ellipse cx="818" cy="2178" rx="3.4" ry="15.4" fill="#d2e0aa" opacity="0.9"/>
<ellipse cx="823" cy="2198" rx="4.6" ry="11.0" fill="#d2e0aa" opacity="0.9"/>
<ellipse cx="829" cy="2232" rx="3.4" ry="9.9" fill="#d2e0aa" opacity="0.9"/>
<ellipse cx="812" cy="2205" rx="2.3" ry="11.0" fill="#d2e0aa" opacity="0.7"/>
<ellipse cx="833" cy="2207" rx="2.3" ry="13.2" fill="#d2e0aa" opacity="0.7999999999999999"/>
<ellipse cx="838" cy="2180" rx="2.3" ry="8.8" fill="#d2e0aa" opacity="0.7"/>
<ellipse cx="803" cy="2262" rx="3.4" ry="11.0" fill="#d2e0aa" opacity="0.9"/>
<ellipse cx="812" cy="2290" rx="6.9" ry="15.4" fill="#d2e0aa" opacity="0.95"/>
<ellipse cx="810" cy="2318" rx="8.0" ry="17.6" fill="#d2e0aa" opacity="1"/>
<ellipse cx="816" cy="2345" rx="10.3" ry="15.4" fill="#d2e0aa" opacity="0.95"/>
<ellipse cx="832" cy="2300" rx="2.3" ry="11.0" fill="#d2e0aa" opacity="0.7"/>
<ellipse cx="836" cy="2335" rx="3.4" ry="15.4" fill="#d2e0aa" opacity="0.7999999999999999"/>
<ellipse cx="820" cy="2385" rx="12.6" ry="22.0" fill="#d2e0aa" opacity="0.95"/>
<ellipse cx="828" cy="2425" rx="14.9" ry="28.6" fill="#d2e0aa" opacity="1"/>
<ellipse cx="836" cy="2462" rx="13.8" ry="24.2" fill="#d2e0aa" opacity="1"/>
<ellipse cx="842" cy="2485" rx="11.5" ry="11.0" fill="#d2e0aa" opacity="0.9"/>
<ellipse cx="848" cy="2400" rx="5.8" ry="13.2" fill="#d2e0aa" opacity="0.7"/>
<ellipse cx="852" cy="2440" rx="4.6" ry="15.4" fill="#d2e0aa" opacity="0.6"/>
<ellipse cx="815" cy="2440" rx="5.8" ry="17.6" fill="#d2e0aa" opacity="0.7999999999999999"/>
<ellipse cx="846" cy="2270" rx="2.3" ry="8.8" fill="#d2e0aa" opacity="0.6"/>
<ellipse cx="850" cy="2360" rx="3.4" ry="11.0" fill="#d2e0aa" opacity="0.6"/>
</g>
<rect x="792" y="2126" width="78" height="370" fill="#fff" filter="url(#fwht)" opacity="0.4"/>
<rect x="792" y="2126" width="78" height="370" fill="#fff" filter="url(#fvein)" opacity="0.3"/>
<rect x="792" y="2126" width="78" height="370" fill="#fff" filter="url(#fspk)" opacity="0.35"/>
<path d="M794.4,2128.8 C794.5,2131.0 795.1,2136.5 795.2,2141.9 C795.2,2147.2 794.9,2155.5 794.8,2160.8 C794.8,2166.2 794.9,2169.1 795.0,2174.2 C795.2,2179.3 795.4,2185.5 795.6,2191.3 C795.7,2197.1 795.9,2203.4 796.0,2208.9 C796.0,2214.3 795.9,2219.1 796.0,2224.0 C796.1,2228.8 796.1,2233.2 796.4,2238.1 C796.7,2243.1 797.6,2248.3 797.8,2253.7 C798.0,2259.2 797.6,2265.5 797.8,2270.7 C798.0,2276.0 798.8,2280.3 798.9,2285.2 C799.1,2290.1 798.8,2295.0 798.8,2300.0 C798.9,2305.0 799.2,2310.3 799.5,2315.3 C799.7,2320.4 800.0,2324.9 800.4,2330.1 C800.7,2335.3 801.2,2341.5 801.4,2346.5 C801.6,2351.5 801.2,2355.1 801.3,2360.1 C801.5,2365.1 801.9,2371.5 802.1,2376.5 C802.4,2381.5 802.7,2385.0 802.9,2390.1 C803.1,2395.2 803.3,2401.8 803.4,2406.8 C803.5,2411.8 803.2,2415.0 803.4,2420.1 C803.5,2425.1 804.1,2431.9 804.3,2437.3 C804.5,2442.6 804.4,2446.5 804.6,2452.1 C804.8,2457.7 805.2,2464.2 805.5,2471.0 C805.8,2477.8 806.2,2489.3 806.3,2493.0 M868.6,2493.0 C868.5,2489.3 868.0,2477.8 867.9,2471.0 C867.7,2464.2 867.8,2457.7 867.6,2452.1 C867.5,2446.5 867.0,2442.6 866.8,2437.3 C866.6,2431.9 866.3,2425.1 866.2,2420.1 C866.1,2415.0 866.3,2411.8 866.2,2406.8 C866.0,2401.8 865.6,2395.2 865.4,2390.1 C865.1,2385.0 864.9,2381.5 864.6,2376.5 C864.4,2371.5 864.1,2365.1 864.0,2360.1 C863.8,2355.1 863.7,2351.5 863.5,2346.5 C863.4,2341.5 863.3,2335.3 863.1,2330.1 C862.9,2324.9 862.5,2320.4 862.3,2315.3 C862.1,2310.3 862.0,2305.0 861.9,2300.0 C861.8,2295.0 861.8,2290.1 861.6,2285.2 C861.4,2280.3 860.9,2276.0 860.9,2270.7 C860.8,2265.5 861.3,2259.2 861.2,2253.7 C861.2,2248.3 860.9,2243.1 860.7,2238.1 C860.4,2233.2 860.2,2228.8 859.9,2224.0 C859.6,2219.1 859.0,2214.3 858.8,2208.9 C858.6,2203.4 859.0,2197.1 858.7,2191.3 C858.5,2185.5 857.7,2179.3 857.4,2174.2 C857.2,2169.1 857.3,2166.2 857.2,2160.8 C857.2,2155.5 857.4,2147.2 857.3,2141.9 C857.2,2136.5 856.7,2131.0 856.6,2128.8" fill="none" stroke="#a9d02e" stroke-width="4" stroke-dasharray="24 30" opacity="0.4" filter="url(#blur1)"/>
</g>
<g clip-path="url(#cs8)">
<rect x="902" y="2126" width="72" height="370"  fill="url(#gs8)"/>
<rect x="902" y="2126" width="72" height="370" fill="#fff" filter="url(#fmot)" opacity="0.35"/>
<rect x="902" y="2126" width="72" height="370" fill="#fff" filter="url(#fspk2)" opacity="0.50"/>
<rect x="902" y="2126" width="72" height="370" fill="#fff" filter="url(#fvein)" opacity="0.63"/>
<rect x="902" y="2126" width="72" height="370" fill="#fff" filter="url(#fspk)" opacity="0.56"/>
<rect x="902" y="2126" width="72" height="370" fill="#fff" filter="url(#fveinL)" opacity="0.20"/>
<path d="M903.9,2128.8 C903.9,2131.1 903.9,2137.3 903.9,2142.3 C903.9,2147.4 903.8,2153.4 903.8,2159.2 C903.8,2165.0 903.7,2171.7 903.8,2177.1 C903.9,2182.6 904.4,2186.7 904.6,2192.0 C904.7,2197.2 904.8,2203.3 904.8,2208.7 C904.7,2214.1 904.2,2219.6 904.2,2224.4 C904.2,2229.2 904.8,2232.6 904.8,2237.5 C904.8,2242.4 904.4,2248.7 904.4,2253.9 C904.4,2259.2 904.8,2263.6 904.8,2268.8 C904.9,2274.1 904.8,2279.6 904.9,2285.4 C905.0,2291.3 905.4,2298.1 905.6,2303.9 C905.8,2309.7 906.0,2315.0 906.1,2320.2 C906.3,2325.5 906.3,2330.1 906.4,2335.4 C906.5,2340.8 906.6,2346.6 906.7,2352.2 C906.8,2357.7 906.8,2363.3 906.9,2368.5 C906.9,2373.7 906.9,2378.4 907.0,2383.1 C907.2,2387.9 907.6,2392.5 907.6,2397.1 C907.7,2401.7 907.5,2405.8 907.6,2410.5 C907.7,2415.2 908.1,2420.4 908.3,2425.1 C908.5,2429.9 908.8,2434.3 908.9,2439.1 C909.0,2443.8 908.9,2448.2 908.8,2453.6 C908.8,2459.0 908.6,2464.8 908.7,2471.3 C908.8,2477.9 909.5,2489.4 909.6,2493.0 M972.3,2493.0 C972.2,2489.4 972.1,2477.9 971.9,2471.3 C971.8,2464.8 971.6,2459.0 971.6,2453.6 C971.5,2448.2 971.7,2443.8 971.7,2439.1 C971.6,2434.3 971.3,2429.9 971.3,2425.1 C971.2,2420.4 971.5,2415.2 971.5,2410.5 C971.4,2405.8 971.2,2401.7 971.0,2397.1 C970.8,2392.5 970.6,2387.9 970.6,2383.1 C970.5,2378.4 971.0,2373.7 970.9,2368.5 C970.9,2363.3 970.4,2357.7 970.3,2352.2 C970.2,2346.6 970.4,2340.8 970.2,2335.4 C970.1,2330.1 969.6,2325.5 969.6,2320.2 C969.5,2315.0 969.9,2309.7 969.8,2303.9 C969.7,2298.1 969.2,2291.3 969.2,2285.4 C969.1,2279.6 969.5,2274.1 969.5,2268.8 C969.5,2263.6 969.4,2259.2 969.3,2253.9 C969.1,2248.7 968.6,2242.4 968.5,2237.5 C968.4,2232.6 968.7,2229.2 968.6,2224.4 C968.5,2219.6 968.0,2214.1 967.9,2208.7 C967.7,2203.3 967.9,2197.2 967.8,2192.0 C967.7,2186.7 967.4,2182.6 967.3,2177.1 C967.2,2171.7 967.3,2165.0 967.2,2159.2 C967.1,2153.4 966.8,2147.4 966.8,2142.3 C966.7,2137.3 967.0,2131.1 967.0,2128.8" fill="none" stroke="#9cc72f" stroke-width="4" stroke-dasharray="30 20 16 36" opacity="0.5" filter="url(#blur1)"/>
</g>
<ellipse cx="211.5" cy="2224" rx="3.5" ry="10" fill="#e6dfa0" opacity="0.9" filter="url(#blur1)"/>
<ellipse cx="426" cy="2140" rx="3.5" ry="11" fill="#e3dca0" opacity="0.9" filter="url(#blur1)"/>
<g clip-path="url(#ca1)">
<rect x="1116" y="2126" width="108" height="370"  fill="#5fa846"/>
<ellipse cx="1122.0" cy="2320.0" rx="7.0" ry="90.0" fill="#86c42c" opacity="0.9" filter="url(#blur6)"/>
<ellipse cx="1214.0" cy="2300.0" rx="5.0" ry="80.0" fill="#93c83a" opacity="0.8" filter="url(#blur6)"/>
<ellipse cx="1150.0" cy="2160.0" rx="14.0" ry="40.0" fill="#69ad4c" opacity="0.6" filter="url(#blur6)"/>
<ellipse cx="1200.0" cy="2200.0" rx="8.0" ry="60.0" fill="#6fb04c" opacity="0.5" filter="url(#blur6)"/>
<ellipse cx="1206.0" cy="2425.0" rx="14.0" ry="40.0" fill="#2f7f2a" opacity="0.9" filter="url(#blur6)"/>
<ellipse cx="1170.0" cy="2485.0" rx="60.0" ry="26.0" fill="#4a9438" opacity="0.45" filter="url(#blur6)"/>
<ellipse cx="1190.0" cy="2470.0" rx="22.0" ry="30.0" fill="#468f38" opacity="0.7" filter="url(#blur6)"/>
<ellipse cx="1135.0" cy="2440.0" rx="14.0" ry="50.0" fill="#4d9a34" opacity="0.6" filter="url(#blur6)"/>
<rect x="1116" y="2126" width="108" height="370" fill="#fff" filter="url(#fgrain)" opacity="0.32"/>
<rect x="1116" y="2126" width="108" height="370" fill="#fff" filter="url(#fgrainL)" opacity="0.25"/>
</g>
<g clip-path="url(#ca2)">
<rect x="1226" y="2126" width="107" height="370"  fill="#54955a"/>
<ellipse cx="1275.0" cy="2160.0" rx="40.0" ry="36.0" fill="#6da56e" opacity="0.7" filter="url(#blur6)"/>
<ellipse cx="1242.0" cy="2385.0" rx="16.0" ry="32.0" fill="#2f6f2c" opacity="0.95" filter="url(#blur6)"/>
<ellipse cx="1290.0" cy="2478.0" rx="50.0" ry="26.0" fill="#457f48" opacity="0.5" filter="url(#blur6)"/>
<ellipse cx="1248.0" cy="2420.0" rx="14.0" ry="14.0" fill="#6a9f68" opacity="0.6" filter="url(#blur6)"/>
<ellipse cx="1310.0" cy="2400.0" rx="12.0" ry="90.0" fill="#3f7f42" opacity="0.7" filter="url(#blur6)"/>
<ellipse cx="1300.0" cy="2260.0" rx="8.0" ry="60.0" fill="#447f48" opacity="0.5" filter="url(#blur6)"/>
<ellipse cx="1232.0" cy="2300.0" rx="5.0" ry="60.0" fill="#4a9638" opacity="0.7" filter="url(#blur6)"/>
<rect x="1226" y="2126" width="107" height="370" fill="#fff" filter="url(#fgrain)" opacity="0.32"/>
<rect x="1226" y="2126" width="107" height="370" fill="#fff" filter="url(#fgrainL)" opacity="0.25"/>
</g>
<g clip-path="url(#ca3)">
<rect x="1340" y="2126" width="99" height="370"  fill="#54a043"/>
<ellipse cx="1352.0" cy="2320.0" rx="6.0" ry="80.0" fill="#74bd2a" opacity="0.9" filter="url(#blur6)"/>
<ellipse cx="1420.0" cy="2300.0" rx="14.0" ry="120.0" fill="#4a8a4c" opacity="0.7" filter="url(#blur6)"/>
<ellipse cx="1415.0" cy="2430.0" rx="18.0" ry="50.0" fill="#3a7a38" opacity="0.8" filter="url(#blur6)"/>
<ellipse cx="1380.0" cy="2200.0" rx="10.0" ry="20.0" fill="#7fb07a" opacity="0.4" filter="url(#blur6)"/>
<ellipse cx="1345.0" cy="2475.0" rx="6.0" ry="30.0" fill="#3f8f2a" opacity="0.8" filter="url(#blur6)"/>
<rect x="1340" y="2126" width="99" height="370" fill="#fff" filter="url(#fgrain)" opacity="0.32"/>
<rect x="1340" y="2126" width="99" height="370" fill="#fff" filter="url(#fgrainL)" opacity="0.25"/>
</g>
<g clip-path="url(#ca4)">
<rect x="1446" y="2126" width="98" height="370"  fill="#5aa843"/>
<ellipse cx="1455.0" cy="2340.0" rx="6.0" ry="110.0" fill="#72bd2c" opacity="0.85" filter="url(#blur6)"/>
<ellipse cx="1530.0" cy="2438.0" rx="13.0" ry="22.0" fill="#2c7428" opacity="0.95" filter="url(#blur6)"/>
<ellipse cx="1520.0" cy="2330.0" rx="12.0" ry="60.0" fill="#4f9a44" opacity="0.5" filter="url(#blur6)"/>
<ellipse cx="1490.0" cy="2200.0" rx="20.0" ry="60.0" fill="#63ad4a" opacity="0.5" filter="url(#blur6)"/>
<ellipse cx="1456.0" cy="2440.0" rx="5.0" ry="40.0" fill="#4c9c2e" opacity="0.7" filter="url(#blur6)"/>
<rect x="1446" y="2126" width="98" height="370" fill="#fff" filter="url(#fgrain)" opacity="0.32"/>
<rect x="1446" y="2126" width="98" height="370" fill="#fff" filter="url(#fgrainL)" opacity="0.25"/>
</g>
<g clip-path="url(#ca5)">
<rect x="1551" y="2126" width="111" height="370"  fill="#4f9a42"/>
<ellipse cx="1560.0" cy="2160.0" rx="5.0" ry="40.0" fill="#8fcb30" opacity="0.95" filter="url(#blur6)"/>
<ellipse cx="1559.0" cy="2330.0" rx="4.0" ry="120.0" fill="#62b02a" opacity="0.8" filter="url(#blur6)"/>
<ellipse cx="1568.0" cy="2438.0" rx="14.0" ry="26.0" fill="#2e7428" opacity="0.95" filter="url(#blur6)"/>
<ellipse cx="1638.0" cy="2442.0" rx="18.0" ry="28.0" fill="#2e7428" opacity="0.95" filter="url(#blur6)"/>
<ellipse cx="1632.0" cy="2190.0" rx="10.0" ry="14.0" fill="#3a7f36" opacity="0.8" filter="url(#blur6)"/>
<ellipse cx="1630.0" cy="2300.0" rx="16.0" ry="70.0" fill="#5a9a58" opacity="0.55" filter="url(#blur6)"/>
<ellipse cx="1600.0" cy="2475.0" rx="50.0" ry="10.0" fill="#529a40" opacity="0.5" filter="url(#blur6)"/>
<ellipse cx="1652.0" cy="2430.0" rx="5.0" ry="26.0" fill="#62b035" opacity="0.7" filter="url(#blur6)"/>
<rect x="1551" y="2126" width="111" height="370" fill="#fff" filter="url(#fgrain)" opacity="0.32"/>
<rect x="1551" y="2126" width="111" height="370" fill="#fff" filter="url(#fgrainL)" opacity="0.25"/>
</g>
<g clip-path="url(#ca6)">
<rect x="1665" y="2126" width="105" height="370"  fill="#4e8b51"/>
<ellipse cx="1720.0" cy="2170.0" rx="40.0" ry="40.0" fill="#63985f" opacity="0.6" filter="url(#blur6)"/>
<ellipse cx="1677.0" cy="2365.0" rx="8.0" ry="14.0" fill="#2f6a30" opacity="0.95" filter="url(#blur6)"/>
<ellipse cx="1684.0" cy="2412.0" rx="12.0" ry="16.0" fill="#6f9f6c" opacity="0.8" filter="url(#blur6)"/>
<ellipse cx="1692.0" cy="2466.0" rx="26.0" ry="24.0" fill="#386f36" opacity="0.9" filter="url(#blur6)"/>
<ellipse cx="1750.0" cy="2468.0" rx="18.0" ry="30.0" fill="#3a7038" opacity="0.9" filter="url(#blur6)"/>
<ellipse cx="1720.0" cy="2480.0" rx="50.0" ry="12.0" fill="#437a40" opacity="0.6" filter="url(#blur6)"/>
<ellipse cx="1748.0" cy="2200.0" rx="8.0" ry="40.0" fill="#447f48" opacity="0.6" filter="url(#blur6)"/>
<rect x="1665" y="2126" width="105" height="370" fill="#fff" filter="url(#fgrain)" opacity="0.32"/>
<rect x="1665" y="2126" width="105" height="370" fill="#fff" filter="url(#fgrainL)" opacity="0.25"/>
</g>
<g clip-path="url(#ca7)">
<rect x="1777" y="2126" width="111" height="370"  fill="#4a993c"/>
<ellipse cx="1872.0" cy="2160.0" rx="5.0" ry="40.0" fill="#9bcc3c" opacity="0.95" filter="url(#blur6)"/>
<ellipse cx="1876.0" cy="2260.0" rx="3.0" ry="60.0" fill="#86c038" opacity="0.8" filter="url(#blur6)"/>
<ellipse cx="1800.0" cy="2200.0" rx="5.0" ry="60.0" fill="#62b030" opacity="0.6" filter="url(#blur6)"/>
<ellipse cx="1810.0" cy="2340.0" rx="18.0" ry="30.0" fill="#3c8434" opacity="0.7" filter="url(#blur6)"/>
<ellipse cx="1820.0" cy="2450.0" rx="30.0" ry="16.0" fill="#3a8032" opacity="0.7" filter="url(#blur6)"/>
<ellipse cx="1870.0" cy="2400.0" rx="8.0" ry="80.0" fill="#58a834" opacity="0.6" filter="url(#blur6)"/>
<ellipse cx="1792.0" cy="2440.0" rx="6.0" ry="50.0" fill="#5aa83a" opacity="0.6" filter="url(#blur6)"/>
<ellipse cx="1806.0" cy="2146.0" rx="10.0" ry="10.0" fill="#3b8a30" opacity="0.6" filter="url(#blur6)"/>
<rect x="1777" y="2126" width="111" height="370" fill="#fff" filter="url(#fgrain)" opacity="0.32"/>
<rect x="1777" y="2126" width="111" height="370" fill="#fff" filter="url(#fgrainL)" opacity="0.25"/>
<mask id="mpow"><rect x="1770" y="2120" width="130" height="380" fill="#000"/><ellipse cx="1858" cy="2300" rx="28" ry="130" fill="#fff" filter="url(#blur6)"/><ellipse cx="1835" cy="2440" rx="30" ry="60" fill="#aaa" filter="url(#blur6)"/><ellipse cx="1850" cy="2160" rx="24" ry="36" fill="#fff" filter="url(#blur6)"/></mask>
<g mask="url(#mpow)"><rect x="1777" y="2126" width="111" height="370" fill="#fff" filter="url(#fpow)" opacity="0.75"/></g>
<ellipse cx="1852" cy="2165" rx="16" ry="30" fill="#e8efd8" opacity="0.35" filter="url(#blur6)"/>
<ellipse cx="1866" cy="2225" rx="8" ry="26" fill="#e8efd8" opacity="0.3" filter="url(#blur6)"/>
<ellipse cx="1862" cy="2310" rx="14" ry="30" fill="#e8efd8" opacity="0.3" filter="url(#blur6)"/>
<ellipse cx="1850" cy="2375" rx="16" ry="28" fill="#e8efd8" opacity="0.25" filter="url(#blur6)"/>
<ellipse cx="1832" cy="2455" rx="18" ry="26" fill="#e8efd8" opacity="0.2" filter="url(#blur6)"/>
<ellipse cx="1798.9" cy="2218.9" rx="4.6" ry="8.5" fill="url(#wspot)"/>
<ellipse cx="1818.1" cy="2224.2" rx="3.1" ry="7.8" fill="url(#wspot)"/>
<ellipse cx="1826.6" cy="2162.4" rx="1.5" ry="6.2" fill="url(#wspot)"/>
<ellipse cx="1838.1" cy="2155.3" rx="1.5" ry="7.0" fill="url(#wspot)"/>
<ellipse cx="1846.0" cy="2160.6" rx="6.1" ry="13.2" fill="url(#wspot)"/>
<ellipse cx="1851.3" cy="2180.0" rx="4.6" ry="7.8" fill="url(#wspot)"/>
<ellipse cx="1864.9" cy="2150.0" rx="5.1" ry="11.7" fill="url(#wspot)"/>
<ellipse cx="1871.6" cy="2167.7" rx="5.1" ry="10.1" fill="url(#wspot)"/>
<ellipse cx="1869.8" cy="2211.8" rx="3.6" ry="13.2" fill="url(#wspot)"/>
<ellipse cx="1871.6" cy="2226.0" rx="3.6" ry="6.2" fill="url(#wspot)"/>
<ellipse cx="1856.6" cy="2240.1" rx="3.1" ry="3.5" fill="url(#wspot)"/>
<ellipse cx="1838.4" cy="2262.2" rx="4.1" ry="7.0" fill="url(#wspot)"/>
<ellipse cx="1867.2" cy="2263.0" rx="4.1" ry="5.8" fill="url(#wspot)"/>
<ellipse cx="1860.7" cy="2271.9" rx="2.0" ry="3.9" fill="url(#wspot)"/>
<ellipse cx="1878.7" cy="2291.3" rx="3.1" ry="7.0" fill="url(#wspot)"/>
<ellipse cx="1853.4" cy="2301.9" rx="4.1" ry="7.0" fill="url(#wspot)"/>
<ellipse cx="1864.9" cy="2314.2" rx="5.1" ry="9.7" fill="url(#wspot)"/>
<ellipse cx="1813.0" cy="2312.5" rx="2.6" ry="4.7" fill="url(#wspot)"/>
<ellipse cx="1839.3" cy="2321.3" rx="3.1" ry="9.7" fill="url(#wspot)"/>
<ellipse cx="1795.3" cy="2345.1" rx="4.1" ry="4.3" fill="url(#wspot)"/>
<ellipse cx="1827.8" cy="2350.4" rx="3.1" ry="4.3" fill="url(#wspot)"/>
<ellipse cx="1844.2" cy="2361.9" rx="4.1" ry="8.9" fill="url(#wspot)"/>
<ellipse cx="1811.6" cy="2381.3" rx="4.1" ry="5.8" fill="url(#wspot)"/>
<ellipse cx="1858.7" cy="2418.4" rx="3.1" ry="4.3" fill="url(#wspot)"/>
<ellipse cx="1822.2" cy="2452.9" rx="5.1" ry="7.8" fill="url(#wspot)"/>
<ellipse cx="1834.5" cy="2464.3" rx="4.6" ry="8.9" fill="url(#wspot)"/>
<ellipse cx="1870.2" cy="2480.2" rx="4.1" ry="3.9" fill="url(#wspot)"/>
<ellipse cx="1806.3" cy="2213.6" rx="2" ry="4.5" fill="#b6d63a" opacity="0.9" filter="url(#blur1)"/>
<ellipse cx="1805.4" cy="2266.6" rx="2" ry="4.5" fill="#b6d63a" opacity="0.9" filter="url(#blur1)"/>
<ellipse cx="1795.3" cy="2287.8" rx="2" ry="4.5" fill="#b6d63a" opacity="0.9" filter="url(#blur1)"/>
<ellipse cx="1827.8" cy="2148.3" rx="2" ry="4.5" fill="#b6d63a" opacity="0.9" filter="url(#blur1)"/>
</g>
<g clip-path="url(#ca8)">
<rect x="1893" y="2126" width="98" height="370"  fill="#6ab32d"/>
<ellipse cx="1950.0" cy="2150.0" rx="30.0" ry="24.0" fill="#79bb40" opacity="0.5" filter="url(#blur6)"/>
<ellipse cx="1980.0" cy="2300.0" rx="6.0" ry="120.0" fill="#80c035" opacity="0.6" filter="url(#blur6)"/>
<ellipse cx="1915.0" cy="2440.0" rx="12.0" ry="60.0" fill="#64ad22" opacity="0.6" filter="url(#blur6)"/>
<ellipse cx="1960.0" cy="2430.0" rx="20.0" ry="30.0" fill="#5fa826" opacity="0.5" filter="url(#blur6)"/>
<rect x="1893" y="2126" width="98" height="370" fill="#fff" filter="url(#fgrain)" opacity="0.32"/>
<rect x="1893" y="2126" width="98" height="370" fill="#fff" filter="url(#fgrainL)" opacity="0.25"/>
</g>
<text transform="translate(477.6,2082.8) scale(1,1.04)" font-size="28" fill="#000" text-anchor="middle" font-style="italic" stroke="#000" stroke-width="0.45">Pm68-1/Pm68-2</text>
<text transform="translate(1465.0,2082.8) scale(1,1.04)" font-size="28" fill="#000" text-anchor="middle" font-style="italic" stroke="#000" stroke-width="0.45">Pm68-1/Pm68-2</text>
<text x="298.0" y="2111.3" font-size="28" fill="#000" text-anchor="middle" >Line 1</text>
<text x="612.5" y="2111.3" font-size="28" fill="#000" text-anchor="middle" >Line 2</text>
<text x="778.0" y="2111.3" font-size="28" fill="#000" text-anchor="start" >Fielder</text>
<text transform="translate(881.5,2111.3) scale(1,1.04)" font-size="28" fill="#000" text-anchor="start" >TRI 1796</text>
<line x1="170.0" y1="2122.0" x2="426.3" y2="2122.0" stroke="#000" stroke-width="3" />
<line x1="473.3" y1="2122.0" x2="747.8" y2="2122.0" stroke="#000" stroke-width="3" />
<text x="1285.0" y="2111.3" font-size="28" fill="#000" text-anchor="middle" >Line 1</text>
<text x="1599.0" y="2111.3" font-size="28" fill="#000" text-anchor="middle" >Line 2</text>
<text x="1790.0" y="2111.3" font-size="28" fill="#000" text-anchor="start" >Fielder</text>
<text transform="translate(1900.5,2111.3) scale(1,1.04)" font-size="28" fill="#000" text-anchor="start" >TRI 1796</text>
<line x1="1138.3" y1="2121.5" x2="1424.4" y2="2121.5" stroke="#000" stroke-width="3" />
<line x1="1459.4" y1="2121.5" x2="1742.5" y2="2121.5" stroke="#000" stroke-width="3" />
<text transform="translate(140.3,2367.0) rotate(-90)" font-size="28" fill="#000" text-anchor="start" >Seedlings</text>
<text transform="translate(1106.5,2393.0) rotate(-90)" font-size="28" fill="#000" text-anchor="start" >Adult plants</text>
</svg>
</body></html>
